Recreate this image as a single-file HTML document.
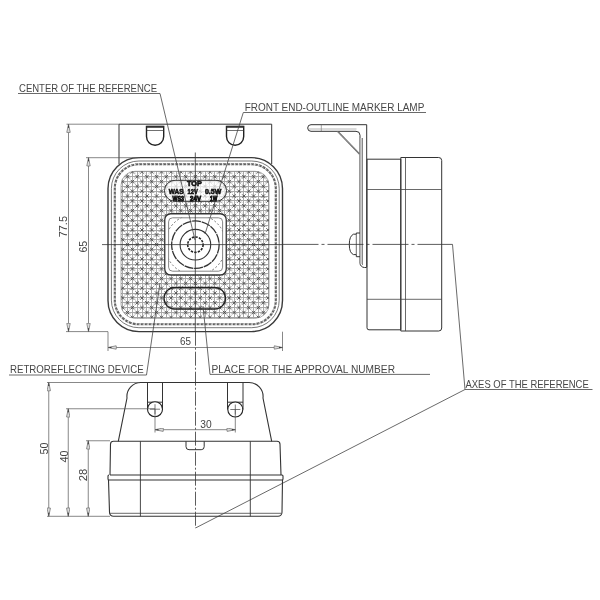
<!DOCTYPE html>
<html><head><meta charset="utf-8">
<style>
html,body{margin:0;padding:0;background:#fff;width:600px;height:600px;overflow:hidden}
svg{display:block;will-change:transform}
text{font-family:"Liberation Sans",sans-serif}
</style></head>
<body>
<svg width="600" height="600" viewBox="0 0 600 600">
<defs>
<pattern id="tex" x="195.4" y="244.6" width="9.6" height="9.6" patternUnits="userSpaceOnUse">
<path d="M0 0.01H9.6M0 4.8H9.6M0.01 0V9.6M4.8 0V9.6" stroke="#777" stroke-width="1" fill="none" shape-rendering="crispEdges"/>
<path d="M-2.10 -2.10L2.10 2.10M2.10 -2.10L-2.10 2.10M7.50 -2.10L11.70 2.10M11.70 -2.10L7.50 2.10M-2.10 7.50L2.10 11.70M2.10 7.50L-2.10 11.70M7.50 7.50L11.70 11.70M11.70 7.50L7.50 11.70M2.70 2.70L6.90 6.90M6.90 2.70L2.70 6.90" stroke="#555" stroke-width="0.85" fill="none"/>
<path d="M1.3 3.55A1.4 1.4 0 0 1 3.5 3.55M6.1 8.35A1.4 1.4 0 0 1 8.3 8.35M3.55 6.1A1.4 1.4 0 0 0 3.55 8.3M8.35 1.3A1.4 1.4 0 0 0 8.35 3.5" stroke="#aaa" stroke-width="0.6" fill="none"/>
</pattern>
<marker id="arr" viewBox="0 0 10 5" refX="10" refY="2.5" markerWidth="9.5" markerHeight="4.3" markerUnits="userSpaceOnUse" orient="auto-start-reverse">
<path d="M0.5 0.5Q0 2.5 0.5 4.5L10 2.5Z" fill="#ddd" stroke="#666" stroke-width="0.8"/><path d="M6 1.7L10 2.5L6 3.3Z" fill="#333"/>
</marker>
</defs>
<rect width="600" height="600" fill="#fff"/>

<g fill="none" stroke="#333" stroke-width="1">
<!-- ===== FRONT VIEW ===== -->
<!-- bracket -->
<path d="M119 164.3V124.2H271.7V164"/>
<!-- tabs -->
<path d="M146.5 126.5V136.6A8.6 8.6 0 0 0 163.7 136.6V126.5Z" stroke="#222" stroke-width="1.4"/>
<path d="M146.5 126.8H163.7" stroke-width="1.8"/>
<path d="M146.5 130.5H163.7" stroke-width="0.7"/>
<path d="M226.5 126.5V136.6A8.6 8.6 0 0 0 243.7 136.6V126.5Z" stroke="#222" stroke-width="1.4"/>
<path d="M226.5 126.8H243.7" stroke-width="1.8"/>
<path d="M226.5 130.5H243.7" stroke-width="0.7"/>

<!-- outer square -->
<rect x="108" y="157.6" width="174.5" height="174" rx="31" fill="#fff" stroke="#3a3a3a" stroke-width="1.4"/>
<rect x="111.4" y="161" width="167.8" height="166.7" rx="27.5" stroke="#555" stroke-width="0.8"/>
<rect x="114.8" y="164.3" width="161" height="160" rx="24" stroke="#606060" stroke-width="2.1" stroke-dasharray="3.2 0.8"/>
<rect x="114.8" y="164.3" width="161" height="160" rx="24" stroke="#d8d8d8" stroke-width="0.8" stroke-dasharray="2 2" stroke-dashoffset="1"/>
<!-- texture -->
<clipPath id="texclip"><rect x="121" y="171.3" width="148" height="147" rx="14"/></clipPath>
<g clip-path="url(#texclip)" fill="none">
<path d="M117.5 170.3V319.3M122.5 170.3V319.3M127.5 170.3V319.3M132.5 170.3V319.3M137.5 170.3V319.3M142.5 170.3V319.3M146.5 170.3V319.3M151.5 170.3V319.3M156.5 170.3V319.3M161.5 170.3V319.3M166.5 170.3V319.3M171.5 170.3V319.3M176.5 170.3V319.3M180.5 170.3V319.3M185.5 170.3V319.3M190.5 170.3V319.3M195.5 170.3V319.3M200.5 170.3V319.3M205.5 170.3V319.3M209.5 170.3V319.3M214.5 170.3V319.3M219.5 170.3V319.3M224.5 170.3V319.3M229.5 170.3V319.3M234.5 170.3V319.3M239.5 170.3V319.3M243.5 170.3V319.3M248.5 170.3V319.3M253.5 170.3V319.3M258.5 170.3V319.3M263.5 170.3V319.3M268.5 170.3V319.3M273.5 170.3V319.3M120 167.5H270M120 171.5H270M120 176.5H270M120 181.5H270M120 186.5H270M120 191.5H270M120 196.5H270M120 200.5H270M120 205.5H270M120 210.5H270M120 215.5H270M120 220.5H270M120 225.5H270M120 230.5H270M120 234.5H270M120 239.5H270M120 244.5H270M120 249.5H270M120 254.5H270M120 259.5H270M120 264.5H270M120 268.5H270M120 273.5H270M120 278.5H270M120 283.5H270M120 288.5H270M120 293.5H270M120 297.5H270M120 302.5H270M120 307.5H270M120 312.5H270M120 317.5H270M120 322.5H270" stroke="#a8a8a8" stroke-width="1"/>
<path d="M116.0 165.2l3.6 3.6m0 -3.6l-3.6 3.6M116.0 174.9l3.6 3.6m0 -3.6l-3.6 3.6M116.0 184.6l3.6 3.6m0 -3.6l-3.6 3.6M116.0 194.3l3.6 3.6m0 -3.6l-3.6 3.6M116.0 204.0l3.6 3.6m0 -3.6l-3.6 3.6M116.0 213.7l3.6 3.6m0 -3.6l-3.6 3.6M116.0 223.4l3.6 3.6m0 -3.6l-3.6 3.6M116.0 233.1l3.6 3.6m0 -3.6l-3.6 3.6M116.0 242.8l3.6 3.6m0 -3.6l-3.6 3.6M116.0 252.5l3.6 3.6m0 -3.6l-3.6 3.6M116.0 262.2l3.6 3.6m0 -3.6l-3.6 3.6M116.0 271.9l3.6 3.6m0 -3.6l-3.6 3.6M116.0 281.6l3.6 3.6m0 -3.6l-3.6 3.6M116.0 291.3l3.6 3.6m0 -3.6l-3.6 3.6M116.0 301.0l3.6 3.6m0 -3.6l-3.6 3.6M116.0 310.7l3.6 3.6m0 -3.6l-3.6 3.6M116.0 320.4l3.6 3.6m0 -3.6l-3.6 3.6M120.9 170.0l3.6 3.6m0 -3.6l-3.6 3.6M120.9 179.8l3.6 3.6m0 -3.6l-3.6 3.6M120.9 189.4l3.6 3.6m0 -3.6l-3.6 3.6M120.9 199.1l3.6 3.6m0 -3.6l-3.6 3.6M120.9 208.8l3.6 3.6m0 -3.6l-3.6 3.6M120.9 218.5l3.6 3.6m0 -3.6l-3.6 3.6M120.9 228.2l3.6 3.6m0 -3.6l-3.6 3.6M120.9 237.9l3.6 3.6m0 -3.6l-3.6 3.6M120.9 247.6l3.6 3.6m0 -3.6l-3.6 3.6M120.9 257.3l3.6 3.6m0 -3.6l-3.6 3.6M120.9 267.1l3.6 3.6m0 -3.6l-3.6 3.6M120.9 276.8l3.6 3.6m0 -3.6l-3.6 3.6M120.9 286.4l3.6 3.6m0 -3.6l-3.6 3.6M120.9 296.1l3.6 3.6m0 -3.6l-3.6 3.6M120.9 305.8l3.6 3.6m0 -3.6l-3.6 3.6M120.9 315.6l3.6 3.6m0 -3.6l-3.6 3.6M125.7 165.2l3.6 3.6m0 -3.6l-3.6 3.6M125.7 174.9l3.6 3.6m0 -3.6l-3.6 3.6M125.7 184.6l3.6 3.6m0 -3.6l-3.6 3.6M125.7 194.3l3.6 3.6m0 -3.6l-3.6 3.6M125.7 204.0l3.6 3.6m0 -3.6l-3.6 3.6M125.7 213.7l3.6 3.6m0 -3.6l-3.6 3.6M125.7 223.4l3.6 3.6m0 -3.6l-3.6 3.6M125.7 233.1l3.6 3.6m0 -3.6l-3.6 3.6M125.7 242.8l3.6 3.6m0 -3.6l-3.6 3.6M125.7 252.5l3.6 3.6m0 -3.6l-3.6 3.6M125.7 262.2l3.6 3.6m0 -3.6l-3.6 3.6M125.7 271.9l3.6 3.6m0 -3.6l-3.6 3.6M125.7 281.6l3.6 3.6m0 -3.6l-3.6 3.6M125.7 291.3l3.6 3.6m0 -3.6l-3.6 3.6M125.7 301.0l3.6 3.6m0 -3.6l-3.6 3.6M125.7 310.7l3.6 3.6m0 -3.6l-3.6 3.6M125.7 320.4l3.6 3.6m0 -3.6l-3.6 3.6M130.6 170.0l3.6 3.6m0 -3.6l-3.6 3.6M130.6 179.8l3.6 3.6m0 -3.6l-3.6 3.6M130.6 189.4l3.6 3.6m0 -3.6l-3.6 3.6M130.6 199.1l3.6 3.6m0 -3.6l-3.6 3.6M130.6 208.8l3.6 3.6m0 -3.6l-3.6 3.6M130.6 218.5l3.6 3.6m0 -3.6l-3.6 3.6M130.6 228.2l3.6 3.6m0 -3.6l-3.6 3.6M130.6 237.9l3.6 3.6m0 -3.6l-3.6 3.6M130.6 247.6l3.6 3.6m0 -3.6l-3.6 3.6M130.6 257.3l3.6 3.6m0 -3.6l-3.6 3.6M130.6 267.1l3.6 3.6m0 -3.6l-3.6 3.6M130.6 276.8l3.6 3.6m0 -3.6l-3.6 3.6M130.6 286.4l3.6 3.6m0 -3.6l-3.6 3.6M130.6 296.1l3.6 3.6m0 -3.6l-3.6 3.6M130.6 305.8l3.6 3.6m0 -3.6l-3.6 3.6M130.6 315.6l3.6 3.6m0 -3.6l-3.6 3.6M135.4 165.2l3.6 3.6m0 -3.6l-3.6 3.6M135.4 174.9l3.6 3.6m0 -3.6l-3.6 3.6M135.4 184.6l3.6 3.6m0 -3.6l-3.6 3.6M135.4 194.3l3.6 3.6m0 -3.6l-3.6 3.6M135.4 204.0l3.6 3.6m0 -3.6l-3.6 3.6M135.4 213.7l3.6 3.6m0 -3.6l-3.6 3.6M135.4 223.4l3.6 3.6m0 -3.6l-3.6 3.6M135.4 233.1l3.6 3.6m0 -3.6l-3.6 3.6M135.4 242.8l3.6 3.6m0 -3.6l-3.6 3.6M135.4 252.5l3.6 3.6m0 -3.6l-3.6 3.6M135.4 262.2l3.6 3.6m0 -3.6l-3.6 3.6M135.4 271.9l3.6 3.6m0 -3.6l-3.6 3.6M135.4 281.6l3.6 3.6m0 -3.6l-3.6 3.6M135.4 291.3l3.6 3.6m0 -3.6l-3.6 3.6M135.4 301.0l3.6 3.6m0 -3.6l-3.6 3.6M135.4 310.7l3.6 3.6m0 -3.6l-3.6 3.6M135.4 320.4l3.6 3.6m0 -3.6l-3.6 3.6M140.2 170.0l3.6 3.6m0 -3.6l-3.6 3.6M140.2 179.8l3.6 3.6m0 -3.6l-3.6 3.6M140.2 189.4l3.6 3.6m0 -3.6l-3.6 3.6M140.2 199.1l3.6 3.6m0 -3.6l-3.6 3.6M140.2 208.8l3.6 3.6m0 -3.6l-3.6 3.6M140.2 218.5l3.6 3.6m0 -3.6l-3.6 3.6M140.2 228.2l3.6 3.6m0 -3.6l-3.6 3.6M140.2 237.9l3.6 3.6m0 -3.6l-3.6 3.6M140.2 247.6l3.6 3.6m0 -3.6l-3.6 3.6M140.2 257.3l3.6 3.6m0 -3.6l-3.6 3.6M140.2 267.1l3.6 3.6m0 -3.6l-3.6 3.6M140.2 276.8l3.6 3.6m0 -3.6l-3.6 3.6M140.2 286.4l3.6 3.6m0 -3.6l-3.6 3.6M140.2 296.1l3.6 3.6m0 -3.6l-3.6 3.6M140.2 305.8l3.6 3.6m0 -3.6l-3.6 3.6M140.2 315.6l3.6 3.6m0 -3.6l-3.6 3.6M145.1 165.2l3.6 3.6m0 -3.6l-3.6 3.6M145.1 174.9l3.6 3.6m0 -3.6l-3.6 3.6M145.1 184.6l3.6 3.6m0 -3.6l-3.6 3.6M145.1 194.3l3.6 3.6m0 -3.6l-3.6 3.6M145.1 204.0l3.6 3.6m0 -3.6l-3.6 3.6M145.1 213.7l3.6 3.6m0 -3.6l-3.6 3.6M145.1 223.4l3.6 3.6m0 -3.6l-3.6 3.6M145.1 233.1l3.6 3.6m0 -3.6l-3.6 3.6M145.1 242.8l3.6 3.6m0 -3.6l-3.6 3.6M145.1 252.5l3.6 3.6m0 -3.6l-3.6 3.6M145.1 262.2l3.6 3.6m0 -3.6l-3.6 3.6M145.1 271.9l3.6 3.6m0 -3.6l-3.6 3.6M145.1 281.6l3.6 3.6m0 -3.6l-3.6 3.6M145.1 291.3l3.6 3.6m0 -3.6l-3.6 3.6M145.1 301.0l3.6 3.6m0 -3.6l-3.6 3.6M145.1 310.7l3.6 3.6m0 -3.6l-3.6 3.6M145.1 320.4l3.6 3.6m0 -3.6l-3.6 3.6M149.9 170.0l3.6 3.6m0 -3.6l-3.6 3.6M149.9 179.8l3.6 3.6m0 -3.6l-3.6 3.6M149.9 189.4l3.6 3.6m0 -3.6l-3.6 3.6M149.9 199.1l3.6 3.6m0 -3.6l-3.6 3.6M149.9 208.8l3.6 3.6m0 -3.6l-3.6 3.6M149.9 218.5l3.6 3.6m0 -3.6l-3.6 3.6M149.9 228.2l3.6 3.6m0 -3.6l-3.6 3.6M149.9 237.9l3.6 3.6m0 -3.6l-3.6 3.6M149.9 247.6l3.6 3.6m0 -3.6l-3.6 3.6M149.9 257.3l3.6 3.6m0 -3.6l-3.6 3.6M149.9 267.1l3.6 3.6m0 -3.6l-3.6 3.6M149.9 276.8l3.6 3.6m0 -3.6l-3.6 3.6M149.9 286.4l3.6 3.6m0 -3.6l-3.6 3.6M149.9 296.1l3.6 3.6m0 -3.6l-3.6 3.6M149.9 305.8l3.6 3.6m0 -3.6l-3.6 3.6M149.9 315.6l3.6 3.6m0 -3.6l-3.6 3.6M154.8 165.2l3.6 3.6m0 -3.6l-3.6 3.6M154.8 174.9l3.6 3.6m0 -3.6l-3.6 3.6M154.8 184.6l3.6 3.6m0 -3.6l-3.6 3.6M154.8 194.3l3.6 3.6m0 -3.6l-3.6 3.6M154.8 204.0l3.6 3.6m0 -3.6l-3.6 3.6M154.8 213.7l3.6 3.6m0 -3.6l-3.6 3.6M154.8 223.4l3.6 3.6m0 -3.6l-3.6 3.6M154.8 233.1l3.6 3.6m0 -3.6l-3.6 3.6M154.8 242.8l3.6 3.6m0 -3.6l-3.6 3.6M154.8 252.5l3.6 3.6m0 -3.6l-3.6 3.6M154.8 262.2l3.6 3.6m0 -3.6l-3.6 3.6M154.8 271.9l3.6 3.6m0 -3.6l-3.6 3.6M154.8 281.6l3.6 3.6m0 -3.6l-3.6 3.6M154.8 291.3l3.6 3.6m0 -3.6l-3.6 3.6M154.8 301.0l3.6 3.6m0 -3.6l-3.6 3.6M154.8 310.7l3.6 3.6m0 -3.6l-3.6 3.6M154.8 320.4l3.6 3.6m0 -3.6l-3.6 3.6M159.7 170.0l3.6 3.6m0 -3.6l-3.6 3.6M159.7 179.8l3.6 3.6m0 -3.6l-3.6 3.6M159.7 189.4l3.6 3.6m0 -3.6l-3.6 3.6M159.7 199.1l3.6 3.6m0 -3.6l-3.6 3.6M159.7 208.8l3.6 3.6m0 -3.6l-3.6 3.6M159.7 218.5l3.6 3.6m0 -3.6l-3.6 3.6M159.7 228.2l3.6 3.6m0 -3.6l-3.6 3.6M159.7 237.9l3.6 3.6m0 -3.6l-3.6 3.6M159.7 247.6l3.6 3.6m0 -3.6l-3.6 3.6M159.7 257.3l3.6 3.6m0 -3.6l-3.6 3.6M159.7 267.1l3.6 3.6m0 -3.6l-3.6 3.6M159.7 276.8l3.6 3.6m0 -3.6l-3.6 3.6M159.7 286.4l3.6 3.6m0 -3.6l-3.6 3.6M159.7 296.1l3.6 3.6m0 -3.6l-3.6 3.6M159.7 305.8l3.6 3.6m0 -3.6l-3.6 3.6M159.7 315.6l3.6 3.6m0 -3.6l-3.6 3.6M164.5 165.2l3.6 3.6m0 -3.6l-3.6 3.6M164.5 174.9l3.6 3.6m0 -3.6l-3.6 3.6M164.5 184.6l3.6 3.6m0 -3.6l-3.6 3.6M164.5 194.3l3.6 3.6m0 -3.6l-3.6 3.6M164.5 204.0l3.6 3.6m0 -3.6l-3.6 3.6M164.5 213.7l3.6 3.6m0 -3.6l-3.6 3.6M164.5 223.4l3.6 3.6m0 -3.6l-3.6 3.6M164.5 233.1l3.6 3.6m0 -3.6l-3.6 3.6M164.5 242.8l3.6 3.6m0 -3.6l-3.6 3.6M164.5 252.5l3.6 3.6m0 -3.6l-3.6 3.6M164.5 262.2l3.6 3.6m0 -3.6l-3.6 3.6M164.5 271.9l3.6 3.6m0 -3.6l-3.6 3.6M164.5 281.6l3.6 3.6m0 -3.6l-3.6 3.6M164.5 291.3l3.6 3.6m0 -3.6l-3.6 3.6M164.5 301.0l3.6 3.6m0 -3.6l-3.6 3.6M164.5 310.7l3.6 3.6m0 -3.6l-3.6 3.6M164.5 320.4l3.6 3.6m0 -3.6l-3.6 3.6M169.3 170.0l3.6 3.6m0 -3.6l-3.6 3.6M169.3 179.8l3.6 3.6m0 -3.6l-3.6 3.6M169.3 189.4l3.6 3.6m0 -3.6l-3.6 3.6M169.3 199.1l3.6 3.6m0 -3.6l-3.6 3.6M169.3 208.8l3.6 3.6m0 -3.6l-3.6 3.6M169.3 218.5l3.6 3.6m0 -3.6l-3.6 3.6M169.3 228.2l3.6 3.6m0 -3.6l-3.6 3.6M169.3 237.9l3.6 3.6m0 -3.6l-3.6 3.6M169.3 247.6l3.6 3.6m0 -3.6l-3.6 3.6M169.3 257.3l3.6 3.6m0 -3.6l-3.6 3.6M169.3 267.1l3.6 3.6m0 -3.6l-3.6 3.6M169.3 276.8l3.6 3.6m0 -3.6l-3.6 3.6M169.3 286.4l3.6 3.6m0 -3.6l-3.6 3.6M169.3 296.1l3.6 3.6m0 -3.6l-3.6 3.6M169.3 305.8l3.6 3.6m0 -3.6l-3.6 3.6M169.3 315.6l3.6 3.6m0 -3.6l-3.6 3.6M174.2 165.2l3.6 3.6m0 -3.6l-3.6 3.6M174.2 174.9l3.6 3.6m0 -3.6l-3.6 3.6M174.2 184.6l3.6 3.6m0 -3.6l-3.6 3.6M174.2 194.3l3.6 3.6m0 -3.6l-3.6 3.6M174.2 204.0l3.6 3.6m0 -3.6l-3.6 3.6M174.2 213.7l3.6 3.6m0 -3.6l-3.6 3.6M174.2 223.4l3.6 3.6m0 -3.6l-3.6 3.6M174.2 233.1l3.6 3.6m0 -3.6l-3.6 3.6M174.2 242.8l3.6 3.6m0 -3.6l-3.6 3.6M174.2 252.5l3.6 3.6m0 -3.6l-3.6 3.6M174.2 262.2l3.6 3.6m0 -3.6l-3.6 3.6M174.2 271.9l3.6 3.6m0 -3.6l-3.6 3.6M174.2 281.6l3.6 3.6m0 -3.6l-3.6 3.6M174.2 291.3l3.6 3.6m0 -3.6l-3.6 3.6M174.2 301.0l3.6 3.6m0 -3.6l-3.6 3.6M174.2 310.7l3.6 3.6m0 -3.6l-3.6 3.6M174.2 320.4l3.6 3.6m0 -3.6l-3.6 3.6M179.0 170.0l3.6 3.6m0 -3.6l-3.6 3.6M179.0 179.8l3.6 3.6m0 -3.6l-3.6 3.6M179.0 189.4l3.6 3.6m0 -3.6l-3.6 3.6M179.0 199.1l3.6 3.6m0 -3.6l-3.6 3.6M179.0 208.8l3.6 3.6m0 -3.6l-3.6 3.6M179.0 218.5l3.6 3.6m0 -3.6l-3.6 3.6M179.0 228.2l3.6 3.6m0 -3.6l-3.6 3.6M179.0 237.9l3.6 3.6m0 -3.6l-3.6 3.6M179.0 247.6l3.6 3.6m0 -3.6l-3.6 3.6M179.0 257.3l3.6 3.6m0 -3.6l-3.6 3.6M179.0 267.1l3.6 3.6m0 -3.6l-3.6 3.6M179.0 276.8l3.6 3.6m0 -3.6l-3.6 3.6M179.0 286.4l3.6 3.6m0 -3.6l-3.6 3.6M179.0 296.1l3.6 3.6m0 -3.6l-3.6 3.6M179.0 305.8l3.6 3.6m0 -3.6l-3.6 3.6M179.0 315.6l3.6 3.6m0 -3.6l-3.6 3.6M183.9 165.2l3.6 3.6m0 -3.6l-3.6 3.6M183.9 174.9l3.6 3.6m0 -3.6l-3.6 3.6M183.9 184.6l3.6 3.6m0 -3.6l-3.6 3.6M183.9 194.3l3.6 3.6m0 -3.6l-3.6 3.6M183.9 204.0l3.6 3.6m0 -3.6l-3.6 3.6M183.9 213.7l3.6 3.6m0 -3.6l-3.6 3.6M183.9 223.4l3.6 3.6m0 -3.6l-3.6 3.6M183.9 233.1l3.6 3.6m0 -3.6l-3.6 3.6M183.9 242.8l3.6 3.6m0 -3.6l-3.6 3.6M183.9 252.5l3.6 3.6m0 -3.6l-3.6 3.6M183.9 262.2l3.6 3.6m0 -3.6l-3.6 3.6M183.9 271.9l3.6 3.6m0 -3.6l-3.6 3.6M183.9 281.6l3.6 3.6m0 -3.6l-3.6 3.6M183.9 291.3l3.6 3.6m0 -3.6l-3.6 3.6M183.9 301.0l3.6 3.6m0 -3.6l-3.6 3.6M183.9 310.7l3.6 3.6m0 -3.6l-3.6 3.6M183.9 320.4l3.6 3.6m0 -3.6l-3.6 3.6M188.8 170.0l3.6 3.6m0 -3.6l-3.6 3.6M188.8 179.8l3.6 3.6m0 -3.6l-3.6 3.6M188.8 189.4l3.6 3.6m0 -3.6l-3.6 3.6M188.8 199.1l3.6 3.6m0 -3.6l-3.6 3.6M188.8 208.8l3.6 3.6m0 -3.6l-3.6 3.6M188.8 218.5l3.6 3.6m0 -3.6l-3.6 3.6M188.8 228.2l3.6 3.6m0 -3.6l-3.6 3.6M188.8 237.9l3.6 3.6m0 -3.6l-3.6 3.6M188.8 247.6l3.6 3.6m0 -3.6l-3.6 3.6M188.8 257.3l3.6 3.6m0 -3.6l-3.6 3.6M188.8 267.1l3.6 3.6m0 -3.6l-3.6 3.6M188.8 276.8l3.6 3.6m0 -3.6l-3.6 3.6M188.8 286.4l3.6 3.6m0 -3.6l-3.6 3.6M188.8 296.1l3.6 3.6m0 -3.6l-3.6 3.6M188.8 305.8l3.6 3.6m0 -3.6l-3.6 3.6M188.8 315.6l3.6 3.6m0 -3.6l-3.6 3.6M193.6 165.2l3.6 3.6m0 -3.6l-3.6 3.6M193.6 174.9l3.6 3.6m0 -3.6l-3.6 3.6M193.6 184.6l3.6 3.6m0 -3.6l-3.6 3.6M193.6 194.3l3.6 3.6m0 -3.6l-3.6 3.6M193.6 204.0l3.6 3.6m0 -3.6l-3.6 3.6M193.6 213.7l3.6 3.6m0 -3.6l-3.6 3.6M193.6 223.4l3.6 3.6m0 -3.6l-3.6 3.6M193.6 233.1l3.6 3.6m0 -3.6l-3.6 3.6M193.6 242.8l3.6 3.6m0 -3.6l-3.6 3.6M193.6 252.5l3.6 3.6m0 -3.6l-3.6 3.6M193.6 262.2l3.6 3.6m0 -3.6l-3.6 3.6M193.6 271.9l3.6 3.6m0 -3.6l-3.6 3.6M193.6 281.6l3.6 3.6m0 -3.6l-3.6 3.6M193.6 291.3l3.6 3.6m0 -3.6l-3.6 3.6M193.6 301.0l3.6 3.6m0 -3.6l-3.6 3.6M193.6 310.7l3.6 3.6m0 -3.6l-3.6 3.6M193.6 320.4l3.6 3.6m0 -3.6l-3.6 3.6M198.4 170.0l3.6 3.6m0 -3.6l-3.6 3.6M198.4 179.8l3.6 3.6m0 -3.6l-3.6 3.6M198.4 189.4l3.6 3.6m0 -3.6l-3.6 3.6M198.4 199.1l3.6 3.6m0 -3.6l-3.6 3.6M198.4 208.8l3.6 3.6m0 -3.6l-3.6 3.6M198.4 218.5l3.6 3.6m0 -3.6l-3.6 3.6M198.4 228.2l3.6 3.6m0 -3.6l-3.6 3.6M198.4 237.9l3.6 3.6m0 -3.6l-3.6 3.6M198.4 247.6l3.6 3.6m0 -3.6l-3.6 3.6M198.4 257.3l3.6 3.6m0 -3.6l-3.6 3.6M198.4 267.1l3.6 3.6m0 -3.6l-3.6 3.6M198.4 276.8l3.6 3.6m0 -3.6l-3.6 3.6M198.4 286.4l3.6 3.6m0 -3.6l-3.6 3.6M198.4 296.1l3.6 3.6m0 -3.6l-3.6 3.6M198.4 305.8l3.6 3.6m0 -3.6l-3.6 3.6M198.4 315.6l3.6 3.6m0 -3.6l-3.6 3.6M203.3 165.2l3.6 3.6m0 -3.6l-3.6 3.6M203.3 174.9l3.6 3.6m0 -3.6l-3.6 3.6M203.3 184.6l3.6 3.6m0 -3.6l-3.6 3.6M203.3 194.3l3.6 3.6m0 -3.6l-3.6 3.6M203.3 204.0l3.6 3.6m0 -3.6l-3.6 3.6M203.3 213.7l3.6 3.6m0 -3.6l-3.6 3.6M203.3 223.4l3.6 3.6m0 -3.6l-3.6 3.6M203.3 233.1l3.6 3.6m0 -3.6l-3.6 3.6M203.3 242.8l3.6 3.6m0 -3.6l-3.6 3.6M203.3 252.5l3.6 3.6m0 -3.6l-3.6 3.6M203.3 262.2l3.6 3.6m0 -3.6l-3.6 3.6M203.3 271.9l3.6 3.6m0 -3.6l-3.6 3.6M203.3 281.6l3.6 3.6m0 -3.6l-3.6 3.6M203.3 291.3l3.6 3.6m0 -3.6l-3.6 3.6M203.3 301.0l3.6 3.6m0 -3.6l-3.6 3.6M203.3 310.7l3.6 3.6m0 -3.6l-3.6 3.6M203.3 320.4l3.6 3.6m0 -3.6l-3.6 3.6M208.2 170.0l3.6 3.6m0 -3.6l-3.6 3.6M208.2 179.8l3.6 3.6m0 -3.6l-3.6 3.6M208.2 189.4l3.6 3.6m0 -3.6l-3.6 3.6M208.2 199.1l3.6 3.6m0 -3.6l-3.6 3.6M208.2 208.8l3.6 3.6m0 -3.6l-3.6 3.6M208.2 218.5l3.6 3.6m0 -3.6l-3.6 3.6M208.2 228.2l3.6 3.6m0 -3.6l-3.6 3.6M208.2 237.9l3.6 3.6m0 -3.6l-3.6 3.6M208.2 247.6l3.6 3.6m0 -3.6l-3.6 3.6M208.2 257.3l3.6 3.6m0 -3.6l-3.6 3.6M208.2 267.1l3.6 3.6m0 -3.6l-3.6 3.6M208.2 276.8l3.6 3.6m0 -3.6l-3.6 3.6M208.2 286.4l3.6 3.6m0 -3.6l-3.6 3.6M208.2 296.1l3.6 3.6m0 -3.6l-3.6 3.6M208.2 305.8l3.6 3.6m0 -3.6l-3.6 3.6M208.2 315.6l3.6 3.6m0 -3.6l-3.6 3.6M213.0 165.2l3.6 3.6m0 -3.6l-3.6 3.6M213.0 174.9l3.6 3.6m0 -3.6l-3.6 3.6M213.0 184.6l3.6 3.6m0 -3.6l-3.6 3.6M213.0 194.3l3.6 3.6m0 -3.6l-3.6 3.6M213.0 204.0l3.6 3.6m0 -3.6l-3.6 3.6M213.0 213.7l3.6 3.6m0 -3.6l-3.6 3.6M213.0 223.4l3.6 3.6m0 -3.6l-3.6 3.6M213.0 233.1l3.6 3.6m0 -3.6l-3.6 3.6M213.0 242.8l3.6 3.6m0 -3.6l-3.6 3.6M213.0 252.5l3.6 3.6m0 -3.6l-3.6 3.6M213.0 262.2l3.6 3.6m0 -3.6l-3.6 3.6M213.0 271.9l3.6 3.6m0 -3.6l-3.6 3.6M213.0 281.6l3.6 3.6m0 -3.6l-3.6 3.6M213.0 291.3l3.6 3.6m0 -3.6l-3.6 3.6M213.0 301.0l3.6 3.6m0 -3.6l-3.6 3.6M213.0 310.7l3.6 3.6m0 -3.6l-3.6 3.6M213.0 320.4l3.6 3.6m0 -3.6l-3.6 3.6M217.8 170.0l3.6 3.6m0 -3.6l-3.6 3.6M217.8 179.8l3.6 3.6m0 -3.6l-3.6 3.6M217.8 189.4l3.6 3.6m0 -3.6l-3.6 3.6M217.8 199.1l3.6 3.6m0 -3.6l-3.6 3.6M217.8 208.8l3.6 3.6m0 -3.6l-3.6 3.6M217.8 218.5l3.6 3.6m0 -3.6l-3.6 3.6M217.8 228.2l3.6 3.6m0 -3.6l-3.6 3.6M217.8 237.9l3.6 3.6m0 -3.6l-3.6 3.6M217.8 247.6l3.6 3.6m0 -3.6l-3.6 3.6M217.8 257.3l3.6 3.6m0 -3.6l-3.6 3.6M217.8 267.1l3.6 3.6m0 -3.6l-3.6 3.6M217.8 276.8l3.6 3.6m0 -3.6l-3.6 3.6M217.8 286.4l3.6 3.6m0 -3.6l-3.6 3.6M217.8 296.1l3.6 3.6m0 -3.6l-3.6 3.6M217.8 305.8l3.6 3.6m0 -3.6l-3.6 3.6M217.8 315.6l3.6 3.6m0 -3.6l-3.6 3.6M222.7 165.2l3.6 3.6m0 -3.6l-3.6 3.6M222.7 174.9l3.6 3.6m0 -3.6l-3.6 3.6M222.7 184.6l3.6 3.6m0 -3.6l-3.6 3.6M222.7 194.3l3.6 3.6m0 -3.6l-3.6 3.6M222.7 204.0l3.6 3.6m0 -3.6l-3.6 3.6M222.7 213.7l3.6 3.6m0 -3.6l-3.6 3.6M222.7 223.4l3.6 3.6m0 -3.6l-3.6 3.6M222.7 233.1l3.6 3.6m0 -3.6l-3.6 3.6M222.7 242.8l3.6 3.6m0 -3.6l-3.6 3.6M222.7 252.5l3.6 3.6m0 -3.6l-3.6 3.6M222.7 262.2l3.6 3.6m0 -3.6l-3.6 3.6M222.7 271.9l3.6 3.6m0 -3.6l-3.6 3.6M222.7 281.6l3.6 3.6m0 -3.6l-3.6 3.6M222.7 291.3l3.6 3.6m0 -3.6l-3.6 3.6M222.7 301.0l3.6 3.6m0 -3.6l-3.6 3.6M222.7 310.7l3.6 3.6m0 -3.6l-3.6 3.6M222.7 320.4l3.6 3.6m0 -3.6l-3.6 3.6M227.5 170.0l3.6 3.6m0 -3.6l-3.6 3.6M227.5 179.8l3.6 3.6m0 -3.6l-3.6 3.6M227.5 189.4l3.6 3.6m0 -3.6l-3.6 3.6M227.5 199.1l3.6 3.6m0 -3.6l-3.6 3.6M227.5 208.8l3.6 3.6m0 -3.6l-3.6 3.6M227.5 218.5l3.6 3.6m0 -3.6l-3.6 3.6M227.5 228.2l3.6 3.6m0 -3.6l-3.6 3.6M227.5 237.9l3.6 3.6m0 -3.6l-3.6 3.6M227.5 247.6l3.6 3.6m0 -3.6l-3.6 3.6M227.5 257.3l3.6 3.6m0 -3.6l-3.6 3.6M227.5 267.1l3.6 3.6m0 -3.6l-3.6 3.6M227.5 276.8l3.6 3.6m0 -3.6l-3.6 3.6M227.5 286.4l3.6 3.6m0 -3.6l-3.6 3.6M227.5 296.1l3.6 3.6m0 -3.6l-3.6 3.6M227.5 305.8l3.6 3.6m0 -3.6l-3.6 3.6M227.5 315.6l3.6 3.6m0 -3.6l-3.6 3.6M232.4 165.2l3.6 3.6m0 -3.6l-3.6 3.6M232.4 174.9l3.6 3.6m0 -3.6l-3.6 3.6M232.4 184.6l3.6 3.6m0 -3.6l-3.6 3.6M232.4 194.3l3.6 3.6m0 -3.6l-3.6 3.6M232.4 204.0l3.6 3.6m0 -3.6l-3.6 3.6M232.4 213.7l3.6 3.6m0 -3.6l-3.6 3.6M232.4 223.4l3.6 3.6m0 -3.6l-3.6 3.6M232.4 233.1l3.6 3.6m0 -3.6l-3.6 3.6M232.4 242.8l3.6 3.6m0 -3.6l-3.6 3.6M232.4 252.5l3.6 3.6m0 -3.6l-3.6 3.6M232.4 262.2l3.6 3.6m0 -3.6l-3.6 3.6M232.4 271.9l3.6 3.6m0 -3.6l-3.6 3.6M232.4 281.6l3.6 3.6m0 -3.6l-3.6 3.6M232.4 291.3l3.6 3.6m0 -3.6l-3.6 3.6M232.4 301.0l3.6 3.6m0 -3.6l-3.6 3.6M232.4 310.7l3.6 3.6m0 -3.6l-3.6 3.6M232.4 320.4l3.6 3.6m0 -3.6l-3.6 3.6M237.2 170.0l3.6 3.6m0 -3.6l-3.6 3.6M237.2 179.8l3.6 3.6m0 -3.6l-3.6 3.6M237.2 189.4l3.6 3.6m0 -3.6l-3.6 3.6M237.2 199.1l3.6 3.6m0 -3.6l-3.6 3.6M237.2 208.8l3.6 3.6m0 -3.6l-3.6 3.6M237.2 218.5l3.6 3.6m0 -3.6l-3.6 3.6M237.2 228.2l3.6 3.6m0 -3.6l-3.6 3.6M237.2 237.9l3.6 3.6m0 -3.6l-3.6 3.6M237.2 247.6l3.6 3.6m0 -3.6l-3.6 3.6M237.2 257.3l3.6 3.6m0 -3.6l-3.6 3.6M237.2 267.1l3.6 3.6m0 -3.6l-3.6 3.6M237.2 276.8l3.6 3.6m0 -3.6l-3.6 3.6M237.2 286.4l3.6 3.6m0 -3.6l-3.6 3.6M237.2 296.1l3.6 3.6m0 -3.6l-3.6 3.6M237.2 305.8l3.6 3.6m0 -3.6l-3.6 3.6M237.2 315.6l3.6 3.6m0 -3.6l-3.6 3.6M242.1 165.2l3.6 3.6m0 -3.6l-3.6 3.6M242.1 174.9l3.6 3.6m0 -3.6l-3.6 3.6M242.1 184.6l3.6 3.6m0 -3.6l-3.6 3.6M242.1 194.3l3.6 3.6m0 -3.6l-3.6 3.6M242.1 204.0l3.6 3.6m0 -3.6l-3.6 3.6M242.1 213.7l3.6 3.6m0 -3.6l-3.6 3.6M242.1 223.4l3.6 3.6m0 -3.6l-3.6 3.6M242.1 233.1l3.6 3.6m0 -3.6l-3.6 3.6M242.1 242.8l3.6 3.6m0 -3.6l-3.6 3.6M242.1 252.5l3.6 3.6m0 -3.6l-3.6 3.6M242.1 262.2l3.6 3.6m0 -3.6l-3.6 3.6M242.1 271.9l3.6 3.6m0 -3.6l-3.6 3.6M242.1 281.6l3.6 3.6m0 -3.6l-3.6 3.6M242.1 291.3l3.6 3.6m0 -3.6l-3.6 3.6M242.1 301.0l3.6 3.6m0 -3.6l-3.6 3.6M242.1 310.7l3.6 3.6m0 -3.6l-3.6 3.6M242.1 320.4l3.6 3.6m0 -3.6l-3.6 3.6M246.9 170.0l3.6 3.6m0 -3.6l-3.6 3.6M246.9 179.8l3.6 3.6m0 -3.6l-3.6 3.6M246.9 189.4l3.6 3.6m0 -3.6l-3.6 3.6M246.9 199.1l3.6 3.6m0 -3.6l-3.6 3.6M246.9 208.8l3.6 3.6m0 -3.6l-3.6 3.6M246.9 218.5l3.6 3.6m0 -3.6l-3.6 3.6M246.9 228.2l3.6 3.6m0 -3.6l-3.6 3.6M246.9 237.9l3.6 3.6m0 -3.6l-3.6 3.6M246.9 247.6l3.6 3.6m0 -3.6l-3.6 3.6M246.9 257.3l3.6 3.6m0 -3.6l-3.6 3.6M246.9 267.1l3.6 3.6m0 -3.6l-3.6 3.6M246.9 276.8l3.6 3.6m0 -3.6l-3.6 3.6M246.9 286.4l3.6 3.6m0 -3.6l-3.6 3.6M246.9 296.1l3.6 3.6m0 -3.6l-3.6 3.6M246.9 305.8l3.6 3.6m0 -3.6l-3.6 3.6M246.9 315.6l3.6 3.6m0 -3.6l-3.6 3.6M251.8 165.2l3.6 3.6m0 -3.6l-3.6 3.6M251.8 174.9l3.6 3.6m0 -3.6l-3.6 3.6M251.8 184.6l3.6 3.6m0 -3.6l-3.6 3.6M251.8 194.3l3.6 3.6m0 -3.6l-3.6 3.6M251.8 204.0l3.6 3.6m0 -3.6l-3.6 3.6M251.8 213.7l3.6 3.6m0 -3.6l-3.6 3.6M251.8 223.4l3.6 3.6m0 -3.6l-3.6 3.6M251.8 233.1l3.6 3.6m0 -3.6l-3.6 3.6M251.8 242.8l3.6 3.6m0 -3.6l-3.6 3.6M251.8 252.5l3.6 3.6m0 -3.6l-3.6 3.6M251.8 262.2l3.6 3.6m0 -3.6l-3.6 3.6M251.8 271.9l3.6 3.6m0 -3.6l-3.6 3.6M251.8 281.6l3.6 3.6m0 -3.6l-3.6 3.6M251.8 291.3l3.6 3.6m0 -3.6l-3.6 3.6M251.8 301.0l3.6 3.6m0 -3.6l-3.6 3.6M251.8 310.7l3.6 3.6m0 -3.6l-3.6 3.6M251.8 320.4l3.6 3.6m0 -3.6l-3.6 3.6M256.6 170.0l3.6 3.6m0 -3.6l-3.6 3.6M256.6 179.8l3.6 3.6m0 -3.6l-3.6 3.6M256.6 189.4l3.6 3.6m0 -3.6l-3.6 3.6M256.6 199.1l3.6 3.6m0 -3.6l-3.6 3.6M256.6 208.8l3.6 3.6m0 -3.6l-3.6 3.6M256.6 218.5l3.6 3.6m0 -3.6l-3.6 3.6M256.6 228.2l3.6 3.6m0 -3.6l-3.6 3.6M256.6 237.9l3.6 3.6m0 -3.6l-3.6 3.6M256.6 247.6l3.6 3.6m0 -3.6l-3.6 3.6M256.6 257.3l3.6 3.6m0 -3.6l-3.6 3.6M256.6 267.1l3.6 3.6m0 -3.6l-3.6 3.6M256.6 276.8l3.6 3.6m0 -3.6l-3.6 3.6M256.6 286.4l3.6 3.6m0 -3.6l-3.6 3.6M256.6 296.1l3.6 3.6m0 -3.6l-3.6 3.6M256.6 305.8l3.6 3.6m0 -3.6l-3.6 3.6M256.6 315.6l3.6 3.6m0 -3.6l-3.6 3.6M261.5 165.2l3.6 3.6m0 -3.6l-3.6 3.6M261.5 174.9l3.6 3.6m0 -3.6l-3.6 3.6M261.5 184.6l3.6 3.6m0 -3.6l-3.6 3.6M261.5 194.3l3.6 3.6m0 -3.6l-3.6 3.6M261.5 204.0l3.6 3.6m0 -3.6l-3.6 3.6M261.5 213.7l3.6 3.6m0 -3.6l-3.6 3.6M261.5 223.4l3.6 3.6m0 -3.6l-3.6 3.6M261.5 233.1l3.6 3.6m0 -3.6l-3.6 3.6M261.5 242.8l3.6 3.6m0 -3.6l-3.6 3.6M261.5 252.5l3.6 3.6m0 -3.6l-3.6 3.6M261.5 262.2l3.6 3.6m0 -3.6l-3.6 3.6M261.5 271.9l3.6 3.6m0 -3.6l-3.6 3.6M261.5 281.6l3.6 3.6m0 -3.6l-3.6 3.6M261.5 291.3l3.6 3.6m0 -3.6l-3.6 3.6M261.5 301.0l3.6 3.6m0 -3.6l-3.6 3.6M261.5 310.7l3.6 3.6m0 -3.6l-3.6 3.6M261.5 320.4l3.6 3.6m0 -3.6l-3.6 3.6M266.3 170.0l3.6 3.6m0 -3.6l-3.6 3.6M266.3 179.8l3.6 3.6m0 -3.6l-3.6 3.6M266.3 189.4l3.6 3.6m0 -3.6l-3.6 3.6M266.3 199.1l3.6 3.6m0 -3.6l-3.6 3.6M266.3 208.8l3.6 3.6m0 -3.6l-3.6 3.6M266.3 218.5l3.6 3.6m0 -3.6l-3.6 3.6M266.3 228.2l3.6 3.6m0 -3.6l-3.6 3.6M266.3 237.9l3.6 3.6m0 -3.6l-3.6 3.6M266.3 247.6l3.6 3.6m0 -3.6l-3.6 3.6M266.3 257.3l3.6 3.6m0 -3.6l-3.6 3.6M266.3 267.1l3.6 3.6m0 -3.6l-3.6 3.6M266.3 276.8l3.6 3.6m0 -3.6l-3.6 3.6M266.3 286.4l3.6 3.6m0 -3.6l-3.6 3.6M266.3 296.1l3.6 3.6m0 -3.6l-3.6 3.6M266.3 305.8l3.6 3.6m0 -3.6l-3.6 3.6M266.3 315.6l3.6 3.6m0 -3.6l-3.6 3.6M271.2 165.2l3.6 3.6m0 -3.6l-3.6 3.6M271.2 174.9l3.6 3.6m0 -3.6l-3.6 3.6M271.2 184.6l3.6 3.6m0 -3.6l-3.6 3.6M271.2 194.3l3.6 3.6m0 -3.6l-3.6 3.6M271.2 204.0l3.6 3.6m0 -3.6l-3.6 3.6M271.2 213.7l3.6 3.6m0 -3.6l-3.6 3.6M271.2 223.4l3.6 3.6m0 -3.6l-3.6 3.6M271.2 233.1l3.6 3.6m0 -3.6l-3.6 3.6M271.2 242.8l3.6 3.6m0 -3.6l-3.6 3.6M271.2 252.5l3.6 3.6m0 -3.6l-3.6 3.6M271.2 262.2l3.6 3.6m0 -3.6l-3.6 3.6M271.2 271.9l3.6 3.6m0 -3.6l-3.6 3.6M271.2 281.6l3.6 3.6m0 -3.6l-3.6 3.6M271.2 291.3l3.6 3.6m0 -3.6l-3.6 3.6M271.2 301.0l3.6 3.6m0 -3.6l-3.6 3.6M271.2 310.7l3.6 3.6m0 -3.6l-3.6 3.6M271.2 320.4l3.6 3.6m0 -3.6l-3.6 3.6" stroke="#4a4a4a" stroke-width="0.9"/>
<path d="M119.1 168.5a1.4 1.4 0 0 1 2.2 0M119.1 173.4a1.4 1.4 0 0 1 2.2 0M119.1 178.2a1.4 1.4 0 0 1 2.2 0M119.1 183.1a1.4 1.4 0 0 1 2.2 0M119.1 187.9a1.4 1.4 0 0 1 2.2 0M119.1 192.8a1.4 1.4 0 0 1 2.2 0M119.1 197.6a1.4 1.4 0 0 1 2.2 0M119.1 202.5a1.4 1.4 0 0 1 2.2 0M119.1 207.3a1.4 1.4 0 0 1 2.2 0M119.1 212.2a1.4 1.4 0 0 1 2.2 0M119.1 217.0a1.4 1.4 0 0 1 2.2 0M119.1 221.9a1.4 1.4 0 0 1 2.2 0M119.1 226.7a1.4 1.4 0 0 1 2.2 0M119.1 231.6a1.4 1.4 0 0 1 2.2 0M119.1 236.4a1.4 1.4 0 0 1 2.2 0M119.1 241.3a1.4 1.4 0 0 1 2.2 0M119.1 246.1a1.4 1.4 0 0 1 2.2 0M119.1 251.0a1.4 1.4 0 0 1 2.2 0M119.1 255.8a1.4 1.4 0 0 1 2.2 0M119.1 260.7a1.4 1.4 0 0 1 2.2 0M119.1 265.5a1.4 1.4 0 0 1 2.2 0M119.1 270.4a1.4 1.4 0 0 1 2.2 0M119.1 275.2a1.4 1.4 0 0 1 2.2 0M119.1 280.1a1.4 1.4 0 0 1 2.2 0M119.1 284.9a1.4 1.4 0 0 1 2.2 0M119.1 289.8a1.4 1.4 0 0 1 2.2 0M119.1 294.6a1.4 1.4 0 0 1 2.2 0M119.1 299.5a1.4 1.4 0 0 1 2.2 0M119.1 304.3a1.4 1.4 0 0 1 2.2 0M119.1 309.2a1.4 1.4 0 0 1 2.2 0M119.1 314.0a1.4 1.4 0 0 1 2.2 0M119.1 318.9a1.4 1.4 0 0 1 2.2 0M119.1 323.7a1.4 1.4 0 0 1 2.2 0M124.0 168.5a1.4 1.4 0 0 1 2.2 0M124.0 173.4a1.4 1.4 0 0 1 2.2 0M124.0 178.2a1.4 1.4 0 0 1 2.2 0M124.0 183.1a1.4 1.4 0 0 1 2.2 0M124.0 187.9a1.4 1.4 0 0 1 2.2 0M124.0 192.8a1.4 1.4 0 0 1 2.2 0M124.0 197.6a1.4 1.4 0 0 1 2.2 0M124.0 202.5a1.4 1.4 0 0 1 2.2 0M124.0 207.3a1.4 1.4 0 0 1 2.2 0M124.0 212.2a1.4 1.4 0 0 1 2.2 0M124.0 217.0a1.4 1.4 0 0 1 2.2 0M124.0 221.9a1.4 1.4 0 0 1 2.2 0M124.0 226.7a1.4 1.4 0 0 1 2.2 0M124.0 231.6a1.4 1.4 0 0 1 2.2 0M124.0 236.4a1.4 1.4 0 0 1 2.2 0M124.0 241.3a1.4 1.4 0 0 1 2.2 0M124.0 246.1a1.4 1.4 0 0 1 2.2 0M124.0 251.0a1.4 1.4 0 0 1 2.2 0M124.0 255.8a1.4 1.4 0 0 1 2.2 0M124.0 260.7a1.4 1.4 0 0 1 2.2 0M124.0 265.5a1.4 1.4 0 0 1 2.2 0M124.0 270.4a1.4 1.4 0 0 1 2.2 0M124.0 275.2a1.4 1.4 0 0 1 2.2 0M124.0 280.1a1.4 1.4 0 0 1 2.2 0M124.0 284.9a1.4 1.4 0 0 1 2.2 0M124.0 289.8a1.4 1.4 0 0 1 2.2 0M124.0 294.6a1.4 1.4 0 0 1 2.2 0M124.0 299.5a1.4 1.4 0 0 1 2.2 0M124.0 304.3a1.4 1.4 0 0 1 2.2 0M124.0 309.2a1.4 1.4 0 0 1 2.2 0M124.0 314.0a1.4 1.4 0 0 1 2.2 0M124.0 318.9a1.4 1.4 0 0 1 2.2 0M124.0 323.7a1.4 1.4 0 0 1 2.2 0M128.8 168.5a1.4 1.4 0 0 1 2.2 0M128.8 173.4a1.4 1.4 0 0 1 2.2 0M128.8 178.2a1.4 1.4 0 0 1 2.2 0M128.8 183.1a1.4 1.4 0 0 1 2.2 0M128.8 187.9a1.4 1.4 0 0 1 2.2 0M128.8 192.8a1.4 1.4 0 0 1 2.2 0M128.8 197.6a1.4 1.4 0 0 1 2.2 0M128.8 202.5a1.4 1.4 0 0 1 2.2 0M128.8 207.3a1.4 1.4 0 0 1 2.2 0M128.8 212.2a1.4 1.4 0 0 1 2.2 0M128.8 217.0a1.4 1.4 0 0 1 2.2 0M128.8 221.9a1.4 1.4 0 0 1 2.2 0M128.8 226.7a1.4 1.4 0 0 1 2.2 0M128.8 231.6a1.4 1.4 0 0 1 2.2 0M128.8 236.4a1.4 1.4 0 0 1 2.2 0M128.8 241.3a1.4 1.4 0 0 1 2.2 0M128.8 246.1a1.4 1.4 0 0 1 2.2 0M128.8 251.0a1.4 1.4 0 0 1 2.2 0M128.8 255.8a1.4 1.4 0 0 1 2.2 0M128.8 260.7a1.4 1.4 0 0 1 2.2 0M128.8 265.5a1.4 1.4 0 0 1 2.2 0M128.8 270.4a1.4 1.4 0 0 1 2.2 0M128.8 275.2a1.4 1.4 0 0 1 2.2 0M128.8 280.1a1.4 1.4 0 0 1 2.2 0M128.8 284.9a1.4 1.4 0 0 1 2.2 0M128.8 289.8a1.4 1.4 0 0 1 2.2 0M128.8 294.6a1.4 1.4 0 0 1 2.2 0M128.8 299.5a1.4 1.4 0 0 1 2.2 0M128.8 304.3a1.4 1.4 0 0 1 2.2 0M128.8 309.2a1.4 1.4 0 0 1 2.2 0M128.8 314.0a1.4 1.4 0 0 1 2.2 0M128.8 318.9a1.4 1.4 0 0 1 2.2 0M128.8 323.7a1.4 1.4 0 0 1 2.2 0M133.7 168.5a1.4 1.4 0 0 1 2.2 0M133.7 173.4a1.4 1.4 0 0 1 2.2 0M133.7 178.2a1.4 1.4 0 0 1 2.2 0M133.7 183.1a1.4 1.4 0 0 1 2.2 0M133.7 187.9a1.4 1.4 0 0 1 2.2 0M133.7 192.8a1.4 1.4 0 0 1 2.2 0M133.7 197.6a1.4 1.4 0 0 1 2.2 0M133.7 202.5a1.4 1.4 0 0 1 2.2 0M133.7 207.3a1.4 1.4 0 0 1 2.2 0M133.7 212.2a1.4 1.4 0 0 1 2.2 0M133.7 217.0a1.4 1.4 0 0 1 2.2 0M133.7 221.9a1.4 1.4 0 0 1 2.2 0M133.7 226.7a1.4 1.4 0 0 1 2.2 0M133.7 231.6a1.4 1.4 0 0 1 2.2 0M133.7 236.4a1.4 1.4 0 0 1 2.2 0M133.7 241.3a1.4 1.4 0 0 1 2.2 0M133.7 246.1a1.4 1.4 0 0 1 2.2 0M133.7 251.0a1.4 1.4 0 0 1 2.2 0M133.7 255.8a1.4 1.4 0 0 1 2.2 0M133.7 260.7a1.4 1.4 0 0 1 2.2 0M133.7 265.5a1.4 1.4 0 0 1 2.2 0M133.7 270.4a1.4 1.4 0 0 1 2.2 0M133.7 275.2a1.4 1.4 0 0 1 2.2 0M133.7 280.1a1.4 1.4 0 0 1 2.2 0M133.7 284.9a1.4 1.4 0 0 1 2.2 0M133.7 289.8a1.4 1.4 0 0 1 2.2 0M133.7 294.6a1.4 1.4 0 0 1 2.2 0M133.7 299.5a1.4 1.4 0 0 1 2.2 0M133.7 304.3a1.4 1.4 0 0 1 2.2 0M133.7 309.2a1.4 1.4 0 0 1 2.2 0M133.7 314.0a1.4 1.4 0 0 1 2.2 0M133.7 318.9a1.4 1.4 0 0 1 2.2 0M133.7 323.7a1.4 1.4 0 0 1 2.2 0M138.5 168.5a1.4 1.4 0 0 1 2.2 0M138.5 173.4a1.4 1.4 0 0 1 2.2 0M138.5 178.2a1.4 1.4 0 0 1 2.2 0M138.5 183.1a1.4 1.4 0 0 1 2.2 0M138.5 187.9a1.4 1.4 0 0 1 2.2 0M138.5 192.8a1.4 1.4 0 0 1 2.2 0M138.5 197.6a1.4 1.4 0 0 1 2.2 0M138.5 202.5a1.4 1.4 0 0 1 2.2 0M138.5 207.3a1.4 1.4 0 0 1 2.2 0M138.5 212.2a1.4 1.4 0 0 1 2.2 0M138.5 217.0a1.4 1.4 0 0 1 2.2 0M138.5 221.9a1.4 1.4 0 0 1 2.2 0M138.5 226.7a1.4 1.4 0 0 1 2.2 0M138.5 231.6a1.4 1.4 0 0 1 2.2 0M138.5 236.4a1.4 1.4 0 0 1 2.2 0M138.5 241.3a1.4 1.4 0 0 1 2.2 0M138.5 246.1a1.4 1.4 0 0 1 2.2 0M138.5 251.0a1.4 1.4 0 0 1 2.2 0M138.5 255.8a1.4 1.4 0 0 1 2.2 0M138.5 260.7a1.4 1.4 0 0 1 2.2 0M138.5 265.5a1.4 1.4 0 0 1 2.2 0M138.5 270.4a1.4 1.4 0 0 1 2.2 0M138.5 275.2a1.4 1.4 0 0 1 2.2 0M138.5 280.1a1.4 1.4 0 0 1 2.2 0M138.5 284.9a1.4 1.4 0 0 1 2.2 0M138.5 289.8a1.4 1.4 0 0 1 2.2 0M138.5 294.6a1.4 1.4 0 0 1 2.2 0M138.5 299.5a1.4 1.4 0 0 1 2.2 0M138.5 304.3a1.4 1.4 0 0 1 2.2 0M138.5 309.2a1.4 1.4 0 0 1 2.2 0M138.5 314.0a1.4 1.4 0 0 1 2.2 0M138.5 318.9a1.4 1.4 0 0 1 2.2 0M138.5 323.7a1.4 1.4 0 0 1 2.2 0M143.4 168.5a1.4 1.4 0 0 1 2.2 0M143.4 173.4a1.4 1.4 0 0 1 2.2 0M143.4 178.2a1.4 1.4 0 0 1 2.2 0M143.4 183.1a1.4 1.4 0 0 1 2.2 0M143.4 187.9a1.4 1.4 0 0 1 2.2 0M143.4 192.8a1.4 1.4 0 0 1 2.2 0M143.4 197.6a1.4 1.4 0 0 1 2.2 0M143.4 202.5a1.4 1.4 0 0 1 2.2 0M143.4 207.3a1.4 1.4 0 0 1 2.2 0M143.4 212.2a1.4 1.4 0 0 1 2.2 0M143.4 217.0a1.4 1.4 0 0 1 2.2 0M143.4 221.9a1.4 1.4 0 0 1 2.2 0M143.4 226.7a1.4 1.4 0 0 1 2.2 0M143.4 231.6a1.4 1.4 0 0 1 2.2 0M143.4 236.4a1.4 1.4 0 0 1 2.2 0M143.4 241.3a1.4 1.4 0 0 1 2.2 0M143.4 246.1a1.4 1.4 0 0 1 2.2 0M143.4 251.0a1.4 1.4 0 0 1 2.2 0M143.4 255.8a1.4 1.4 0 0 1 2.2 0M143.4 260.7a1.4 1.4 0 0 1 2.2 0M143.4 265.5a1.4 1.4 0 0 1 2.2 0M143.4 270.4a1.4 1.4 0 0 1 2.2 0M143.4 275.2a1.4 1.4 0 0 1 2.2 0M143.4 280.1a1.4 1.4 0 0 1 2.2 0M143.4 284.9a1.4 1.4 0 0 1 2.2 0M143.4 289.8a1.4 1.4 0 0 1 2.2 0M143.4 294.6a1.4 1.4 0 0 1 2.2 0M143.4 299.5a1.4 1.4 0 0 1 2.2 0M143.4 304.3a1.4 1.4 0 0 1 2.2 0M143.4 309.2a1.4 1.4 0 0 1 2.2 0M143.4 314.0a1.4 1.4 0 0 1 2.2 0M143.4 318.9a1.4 1.4 0 0 1 2.2 0M143.4 323.7a1.4 1.4 0 0 1 2.2 0M148.2 168.5a1.4 1.4 0 0 1 2.2 0M148.2 173.4a1.4 1.4 0 0 1 2.2 0M148.2 178.2a1.4 1.4 0 0 1 2.2 0M148.2 183.1a1.4 1.4 0 0 1 2.2 0M148.2 187.9a1.4 1.4 0 0 1 2.2 0M148.2 192.8a1.4 1.4 0 0 1 2.2 0M148.2 197.6a1.4 1.4 0 0 1 2.2 0M148.2 202.5a1.4 1.4 0 0 1 2.2 0M148.2 207.3a1.4 1.4 0 0 1 2.2 0M148.2 212.2a1.4 1.4 0 0 1 2.2 0M148.2 217.0a1.4 1.4 0 0 1 2.2 0M148.2 221.9a1.4 1.4 0 0 1 2.2 0M148.2 226.7a1.4 1.4 0 0 1 2.2 0M148.2 231.6a1.4 1.4 0 0 1 2.2 0M148.2 236.4a1.4 1.4 0 0 1 2.2 0M148.2 241.3a1.4 1.4 0 0 1 2.2 0M148.2 246.1a1.4 1.4 0 0 1 2.2 0M148.2 251.0a1.4 1.4 0 0 1 2.2 0M148.2 255.8a1.4 1.4 0 0 1 2.2 0M148.2 260.7a1.4 1.4 0 0 1 2.2 0M148.2 265.5a1.4 1.4 0 0 1 2.2 0M148.2 270.4a1.4 1.4 0 0 1 2.2 0M148.2 275.2a1.4 1.4 0 0 1 2.2 0M148.2 280.1a1.4 1.4 0 0 1 2.2 0M148.2 284.9a1.4 1.4 0 0 1 2.2 0M148.2 289.8a1.4 1.4 0 0 1 2.2 0M148.2 294.6a1.4 1.4 0 0 1 2.2 0M148.2 299.5a1.4 1.4 0 0 1 2.2 0M148.2 304.3a1.4 1.4 0 0 1 2.2 0M148.2 309.2a1.4 1.4 0 0 1 2.2 0M148.2 314.0a1.4 1.4 0 0 1 2.2 0M148.2 318.9a1.4 1.4 0 0 1 2.2 0M148.2 323.7a1.4 1.4 0 0 1 2.2 0M153.1 168.5a1.4 1.4 0 0 1 2.2 0M153.1 173.4a1.4 1.4 0 0 1 2.2 0M153.1 178.2a1.4 1.4 0 0 1 2.2 0M153.1 183.1a1.4 1.4 0 0 1 2.2 0M153.1 187.9a1.4 1.4 0 0 1 2.2 0M153.1 192.8a1.4 1.4 0 0 1 2.2 0M153.1 197.6a1.4 1.4 0 0 1 2.2 0M153.1 202.5a1.4 1.4 0 0 1 2.2 0M153.1 207.3a1.4 1.4 0 0 1 2.2 0M153.1 212.2a1.4 1.4 0 0 1 2.2 0M153.1 217.0a1.4 1.4 0 0 1 2.2 0M153.1 221.9a1.4 1.4 0 0 1 2.2 0M153.1 226.7a1.4 1.4 0 0 1 2.2 0M153.1 231.6a1.4 1.4 0 0 1 2.2 0M153.1 236.4a1.4 1.4 0 0 1 2.2 0M153.1 241.3a1.4 1.4 0 0 1 2.2 0M153.1 246.1a1.4 1.4 0 0 1 2.2 0M153.1 251.0a1.4 1.4 0 0 1 2.2 0M153.1 255.8a1.4 1.4 0 0 1 2.2 0M153.1 260.7a1.4 1.4 0 0 1 2.2 0M153.1 265.5a1.4 1.4 0 0 1 2.2 0M153.1 270.4a1.4 1.4 0 0 1 2.2 0M153.1 275.2a1.4 1.4 0 0 1 2.2 0M153.1 280.1a1.4 1.4 0 0 1 2.2 0M153.1 284.9a1.4 1.4 0 0 1 2.2 0M153.1 289.8a1.4 1.4 0 0 1 2.2 0M153.1 294.6a1.4 1.4 0 0 1 2.2 0M153.1 299.5a1.4 1.4 0 0 1 2.2 0M153.1 304.3a1.4 1.4 0 0 1 2.2 0M153.1 309.2a1.4 1.4 0 0 1 2.2 0M153.1 314.0a1.4 1.4 0 0 1 2.2 0M153.1 318.9a1.4 1.4 0 0 1 2.2 0M153.1 323.7a1.4 1.4 0 0 1 2.2 0M157.9 168.5a1.4 1.4 0 0 1 2.2 0M157.9 173.4a1.4 1.4 0 0 1 2.2 0M157.9 178.2a1.4 1.4 0 0 1 2.2 0M157.9 183.1a1.4 1.4 0 0 1 2.2 0M157.9 187.9a1.4 1.4 0 0 1 2.2 0M157.9 192.8a1.4 1.4 0 0 1 2.2 0M157.9 197.6a1.4 1.4 0 0 1 2.2 0M157.9 202.5a1.4 1.4 0 0 1 2.2 0M157.9 207.3a1.4 1.4 0 0 1 2.2 0M157.9 212.2a1.4 1.4 0 0 1 2.2 0M157.9 217.0a1.4 1.4 0 0 1 2.2 0M157.9 221.9a1.4 1.4 0 0 1 2.2 0M157.9 226.7a1.4 1.4 0 0 1 2.2 0M157.9 231.6a1.4 1.4 0 0 1 2.2 0M157.9 236.4a1.4 1.4 0 0 1 2.2 0M157.9 241.3a1.4 1.4 0 0 1 2.2 0M157.9 246.1a1.4 1.4 0 0 1 2.2 0M157.9 251.0a1.4 1.4 0 0 1 2.2 0M157.9 255.8a1.4 1.4 0 0 1 2.2 0M157.9 260.7a1.4 1.4 0 0 1 2.2 0M157.9 265.5a1.4 1.4 0 0 1 2.2 0M157.9 270.4a1.4 1.4 0 0 1 2.2 0M157.9 275.2a1.4 1.4 0 0 1 2.2 0M157.9 280.1a1.4 1.4 0 0 1 2.2 0M157.9 284.9a1.4 1.4 0 0 1 2.2 0M157.9 289.8a1.4 1.4 0 0 1 2.2 0M157.9 294.6a1.4 1.4 0 0 1 2.2 0M157.9 299.5a1.4 1.4 0 0 1 2.2 0M157.9 304.3a1.4 1.4 0 0 1 2.2 0M157.9 309.2a1.4 1.4 0 0 1 2.2 0M157.9 314.0a1.4 1.4 0 0 1 2.2 0M157.9 318.9a1.4 1.4 0 0 1 2.2 0M157.9 323.7a1.4 1.4 0 0 1 2.2 0M162.8 168.5a1.4 1.4 0 0 1 2.2 0M162.8 173.4a1.4 1.4 0 0 1 2.2 0M162.8 178.2a1.4 1.4 0 0 1 2.2 0M162.8 183.1a1.4 1.4 0 0 1 2.2 0M162.8 187.9a1.4 1.4 0 0 1 2.2 0M162.8 192.8a1.4 1.4 0 0 1 2.2 0M162.8 197.6a1.4 1.4 0 0 1 2.2 0M162.8 202.5a1.4 1.4 0 0 1 2.2 0M162.8 207.3a1.4 1.4 0 0 1 2.2 0M162.8 212.2a1.4 1.4 0 0 1 2.2 0M162.8 217.0a1.4 1.4 0 0 1 2.2 0M162.8 221.9a1.4 1.4 0 0 1 2.2 0M162.8 226.7a1.4 1.4 0 0 1 2.2 0M162.8 231.6a1.4 1.4 0 0 1 2.2 0M162.8 236.4a1.4 1.4 0 0 1 2.2 0M162.8 241.3a1.4 1.4 0 0 1 2.2 0M162.8 246.1a1.4 1.4 0 0 1 2.2 0M162.8 251.0a1.4 1.4 0 0 1 2.2 0M162.8 255.8a1.4 1.4 0 0 1 2.2 0M162.8 260.7a1.4 1.4 0 0 1 2.2 0M162.8 265.5a1.4 1.4 0 0 1 2.2 0M162.8 270.4a1.4 1.4 0 0 1 2.2 0M162.8 275.2a1.4 1.4 0 0 1 2.2 0M162.8 280.1a1.4 1.4 0 0 1 2.2 0M162.8 284.9a1.4 1.4 0 0 1 2.2 0M162.8 289.8a1.4 1.4 0 0 1 2.2 0M162.8 294.6a1.4 1.4 0 0 1 2.2 0M162.8 299.5a1.4 1.4 0 0 1 2.2 0M162.8 304.3a1.4 1.4 0 0 1 2.2 0M162.8 309.2a1.4 1.4 0 0 1 2.2 0M162.8 314.0a1.4 1.4 0 0 1 2.2 0M162.8 318.9a1.4 1.4 0 0 1 2.2 0M162.8 323.7a1.4 1.4 0 0 1 2.2 0M167.6 168.5a1.4 1.4 0 0 1 2.2 0M167.6 173.4a1.4 1.4 0 0 1 2.2 0M167.6 178.2a1.4 1.4 0 0 1 2.2 0M167.6 183.1a1.4 1.4 0 0 1 2.2 0M167.6 187.9a1.4 1.4 0 0 1 2.2 0M167.6 192.8a1.4 1.4 0 0 1 2.2 0M167.6 197.6a1.4 1.4 0 0 1 2.2 0M167.6 202.5a1.4 1.4 0 0 1 2.2 0M167.6 207.3a1.4 1.4 0 0 1 2.2 0M167.6 212.2a1.4 1.4 0 0 1 2.2 0M167.6 217.0a1.4 1.4 0 0 1 2.2 0M167.6 221.9a1.4 1.4 0 0 1 2.2 0M167.6 226.7a1.4 1.4 0 0 1 2.2 0M167.6 231.6a1.4 1.4 0 0 1 2.2 0M167.6 236.4a1.4 1.4 0 0 1 2.2 0M167.6 241.3a1.4 1.4 0 0 1 2.2 0M167.6 246.1a1.4 1.4 0 0 1 2.2 0M167.6 251.0a1.4 1.4 0 0 1 2.2 0M167.6 255.8a1.4 1.4 0 0 1 2.2 0M167.6 260.7a1.4 1.4 0 0 1 2.2 0M167.6 265.5a1.4 1.4 0 0 1 2.2 0M167.6 270.4a1.4 1.4 0 0 1 2.2 0M167.6 275.2a1.4 1.4 0 0 1 2.2 0M167.6 280.1a1.4 1.4 0 0 1 2.2 0M167.6 284.9a1.4 1.4 0 0 1 2.2 0M167.6 289.8a1.4 1.4 0 0 1 2.2 0M167.6 294.6a1.4 1.4 0 0 1 2.2 0M167.6 299.5a1.4 1.4 0 0 1 2.2 0M167.6 304.3a1.4 1.4 0 0 1 2.2 0M167.6 309.2a1.4 1.4 0 0 1 2.2 0M167.6 314.0a1.4 1.4 0 0 1 2.2 0M167.6 318.9a1.4 1.4 0 0 1 2.2 0M167.6 323.7a1.4 1.4 0 0 1 2.2 0M172.5 168.5a1.4 1.4 0 0 1 2.2 0M172.5 173.4a1.4 1.4 0 0 1 2.2 0M172.5 178.2a1.4 1.4 0 0 1 2.2 0M172.5 183.1a1.4 1.4 0 0 1 2.2 0M172.5 187.9a1.4 1.4 0 0 1 2.2 0M172.5 192.8a1.4 1.4 0 0 1 2.2 0M172.5 197.6a1.4 1.4 0 0 1 2.2 0M172.5 202.5a1.4 1.4 0 0 1 2.2 0M172.5 207.3a1.4 1.4 0 0 1 2.2 0M172.5 212.2a1.4 1.4 0 0 1 2.2 0M172.5 217.0a1.4 1.4 0 0 1 2.2 0M172.5 221.9a1.4 1.4 0 0 1 2.2 0M172.5 226.7a1.4 1.4 0 0 1 2.2 0M172.5 231.6a1.4 1.4 0 0 1 2.2 0M172.5 236.4a1.4 1.4 0 0 1 2.2 0M172.5 241.3a1.4 1.4 0 0 1 2.2 0M172.5 246.1a1.4 1.4 0 0 1 2.2 0M172.5 251.0a1.4 1.4 0 0 1 2.2 0M172.5 255.8a1.4 1.4 0 0 1 2.2 0M172.5 260.7a1.4 1.4 0 0 1 2.2 0M172.5 265.5a1.4 1.4 0 0 1 2.2 0M172.5 270.4a1.4 1.4 0 0 1 2.2 0M172.5 275.2a1.4 1.4 0 0 1 2.2 0M172.5 280.1a1.4 1.4 0 0 1 2.2 0M172.5 284.9a1.4 1.4 0 0 1 2.2 0M172.5 289.8a1.4 1.4 0 0 1 2.2 0M172.5 294.6a1.4 1.4 0 0 1 2.2 0M172.5 299.5a1.4 1.4 0 0 1 2.2 0M172.5 304.3a1.4 1.4 0 0 1 2.2 0M172.5 309.2a1.4 1.4 0 0 1 2.2 0M172.5 314.0a1.4 1.4 0 0 1 2.2 0M172.5 318.9a1.4 1.4 0 0 1 2.2 0M172.5 323.7a1.4 1.4 0 0 1 2.2 0M177.3 168.5a1.4 1.4 0 0 1 2.2 0M177.3 173.4a1.4 1.4 0 0 1 2.2 0M177.3 178.2a1.4 1.4 0 0 1 2.2 0M177.3 183.1a1.4 1.4 0 0 1 2.2 0M177.3 187.9a1.4 1.4 0 0 1 2.2 0M177.3 192.8a1.4 1.4 0 0 1 2.2 0M177.3 197.6a1.4 1.4 0 0 1 2.2 0M177.3 202.5a1.4 1.4 0 0 1 2.2 0M177.3 207.3a1.4 1.4 0 0 1 2.2 0M177.3 212.2a1.4 1.4 0 0 1 2.2 0M177.3 217.0a1.4 1.4 0 0 1 2.2 0M177.3 221.9a1.4 1.4 0 0 1 2.2 0M177.3 226.7a1.4 1.4 0 0 1 2.2 0M177.3 231.6a1.4 1.4 0 0 1 2.2 0M177.3 236.4a1.4 1.4 0 0 1 2.2 0M177.3 241.3a1.4 1.4 0 0 1 2.2 0M177.3 246.1a1.4 1.4 0 0 1 2.2 0M177.3 251.0a1.4 1.4 0 0 1 2.2 0M177.3 255.8a1.4 1.4 0 0 1 2.2 0M177.3 260.7a1.4 1.4 0 0 1 2.2 0M177.3 265.5a1.4 1.4 0 0 1 2.2 0M177.3 270.4a1.4 1.4 0 0 1 2.2 0M177.3 275.2a1.4 1.4 0 0 1 2.2 0M177.3 280.1a1.4 1.4 0 0 1 2.2 0M177.3 284.9a1.4 1.4 0 0 1 2.2 0M177.3 289.8a1.4 1.4 0 0 1 2.2 0M177.3 294.6a1.4 1.4 0 0 1 2.2 0M177.3 299.5a1.4 1.4 0 0 1 2.2 0M177.3 304.3a1.4 1.4 0 0 1 2.2 0M177.3 309.2a1.4 1.4 0 0 1 2.2 0M177.3 314.0a1.4 1.4 0 0 1 2.2 0M177.3 318.9a1.4 1.4 0 0 1 2.2 0M177.3 323.7a1.4 1.4 0 0 1 2.2 0M182.2 168.5a1.4 1.4 0 0 1 2.2 0M182.2 173.4a1.4 1.4 0 0 1 2.2 0M182.2 178.2a1.4 1.4 0 0 1 2.2 0M182.2 183.1a1.4 1.4 0 0 1 2.2 0M182.2 187.9a1.4 1.4 0 0 1 2.2 0M182.2 192.8a1.4 1.4 0 0 1 2.2 0M182.2 197.6a1.4 1.4 0 0 1 2.2 0M182.2 202.5a1.4 1.4 0 0 1 2.2 0M182.2 207.3a1.4 1.4 0 0 1 2.2 0M182.2 212.2a1.4 1.4 0 0 1 2.2 0M182.2 217.0a1.4 1.4 0 0 1 2.2 0M182.2 221.9a1.4 1.4 0 0 1 2.2 0M182.2 226.7a1.4 1.4 0 0 1 2.2 0M182.2 231.6a1.4 1.4 0 0 1 2.2 0M182.2 236.4a1.4 1.4 0 0 1 2.2 0M182.2 241.3a1.4 1.4 0 0 1 2.2 0M182.2 246.1a1.4 1.4 0 0 1 2.2 0M182.2 251.0a1.4 1.4 0 0 1 2.2 0M182.2 255.8a1.4 1.4 0 0 1 2.2 0M182.2 260.7a1.4 1.4 0 0 1 2.2 0M182.2 265.5a1.4 1.4 0 0 1 2.2 0M182.2 270.4a1.4 1.4 0 0 1 2.2 0M182.2 275.2a1.4 1.4 0 0 1 2.2 0M182.2 280.1a1.4 1.4 0 0 1 2.2 0M182.2 284.9a1.4 1.4 0 0 1 2.2 0M182.2 289.8a1.4 1.4 0 0 1 2.2 0M182.2 294.6a1.4 1.4 0 0 1 2.2 0M182.2 299.5a1.4 1.4 0 0 1 2.2 0M182.2 304.3a1.4 1.4 0 0 1 2.2 0M182.2 309.2a1.4 1.4 0 0 1 2.2 0M182.2 314.0a1.4 1.4 0 0 1 2.2 0M182.2 318.9a1.4 1.4 0 0 1 2.2 0M182.2 323.7a1.4 1.4 0 0 1 2.2 0M187.0 168.5a1.4 1.4 0 0 1 2.2 0M187.0 173.4a1.4 1.4 0 0 1 2.2 0M187.0 178.2a1.4 1.4 0 0 1 2.2 0M187.0 183.1a1.4 1.4 0 0 1 2.2 0M187.0 187.9a1.4 1.4 0 0 1 2.2 0M187.0 192.8a1.4 1.4 0 0 1 2.2 0M187.0 197.6a1.4 1.4 0 0 1 2.2 0M187.0 202.5a1.4 1.4 0 0 1 2.2 0M187.0 207.3a1.4 1.4 0 0 1 2.2 0M187.0 212.2a1.4 1.4 0 0 1 2.2 0M187.0 217.0a1.4 1.4 0 0 1 2.2 0M187.0 221.9a1.4 1.4 0 0 1 2.2 0M187.0 226.7a1.4 1.4 0 0 1 2.2 0M187.0 231.6a1.4 1.4 0 0 1 2.2 0M187.0 236.4a1.4 1.4 0 0 1 2.2 0M187.0 241.3a1.4 1.4 0 0 1 2.2 0M187.0 246.1a1.4 1.4 0 0 1 2.2 0M187.0 251.0a1.4 1.4 0 0 1 2.2 0M187.0 255.8a1.4 1.4 0 0 1 2.2 0M187.0 260.7a1.4 1.4 0 0 1 2.2 0M187.0 265.5a1.4 1.4 0 0 1 2.2 0M187.0 270.4a1.4 1.4 0 0 1 2.2 0M187.0 275.2a1.4 1.4 0 0 1 2.2 0M187.0 280.1a1.4 1.4 0 0 1 2.2 0M187.0 284.9a1.4 1.4 0 0 1 2.2 0M187.0 289.8a1.4 1.4 0 0 1 2.2 0M187.0 294.6a1.4 1.4 0 0 1 2.2 0M187.0 299.5a1.4 1.4 0 0 1 2.2 0M187.0 304.3a1.4 1.4 0 0 1 2.2 0M187.0 309.2a1.4 1.4 0 0 1 2.2 0M187.0 314.0a1.4 1.4 0 0 1 2.2 0M187.0 318.9a1.4 1.4 0 0 1 2.2 0M187.0 323.7a1.4 1.4 0 0 1 2.2 0M191.9 168.5a1.4 1.4 0 0 1 2.2 0M191.9 173.4a1.4 1.4 0 0 1 2.2 0M191.9 178.2a1.4 1.4 0 0 1 2.2 0M191.9 183.1a1.4 1.4 0 0 1 2.2 0M191.9 187.9a1.4 1.4 0 0 1 2.2 0M191.9 192.8a1.4 1.4 0 0 1 2.2 0M191.9 197.6a1.4 1.4 0 0 1 2.2 0M191.9 202.5a1.4 1.4 0 0 1 2.2 0M191.9 207.3a1.4 1.4 0 0 1 2.2 0M191.9 212.2a1.4 1.4 0 0 1 2.2 0M191.9 217.0a1.4 1.4 0 0 1 2.2 0M191.9 221.9a1.4 1.4 0 0 1 2.2 0M191.9 226.7a1.4 1.4 0 0 1 2.2 0M191.9 231.6a1.4 1.4 0 0 1 2.2 0M191.9 236.4a1.4 1.4 0 0 1 2.2 0M191.9 241.3a1.4 1.4 0 0 1 2.2 0M191.9 246.1a1.4 1.4 0 0 1 2.2 0M191.9 251.0a1.4 1.4 0 0 1 2.2 0M191.9 255.8a1.4 1.4 0 0 1 2.2 0M191.9 260.7a1.4 1.4 0 0 1 2.2 0M191.9 265.5a1.4 1.4 0 0 1 2.2 0M191.9 270.4a1.4 1.4 0 0 1 2.2 0M191.9 275.2a1.4 1.4 0 0 1 2.2 0M191.9 280.1a1.4 1.4 0 0 1 2.2 0M191.9 284.9a1.4 1.4 0 0 1 2.2 0M191.9 289.8a1.4 1.4 0 0 1 2.2 0M191.9 294.6a1.4 1.4 0 0 1 2.2 0M191.9 299.5a1.4 1.4 0 0 1 2.2 0M191.9 304.3a1.4 1.4 0 0 1 2.2 0M191.9 309.2a1.4 1.4 0 0 1 2.2 0M191.9 314.0a1.4 1.4 0 0 1 2.2 0M191.9 318.9a1.4 1.4 0 0 1 2.2 0M191.9 323.7a1.4 1.4 0 0 1 2.2 0M196.7 168.5a1.4 1.4 0 0 1 2.2 0M196.7 173.4a1.4 1.4 0 0 1 2.2 0M196.7 178.2a1.4 1.4 0 0 1 2.2 0M196.7 183.1a1.4 1.4 0 0 1 2.2 0M196.7 187.9a1.4 1.4 0 0 1 2.2 0M196.7 192.8a1.4 1.4 0 0 1 2.2 0M196.7 197.6a1.4 1.4 0 0 1 2.2 0M196.7 202.5a1.4 1.4 0 0 1 2.2 0M196.7 207.3a1.4 1.4 0 0 1 2.2 0M196.7 212.2a1.4 1.4 0 0 1 2.2 0M196.7 217.0a1.4 1.4 0 0 1 2.2 0M196.7 221.9a1.4 1.4 0 0 1 2.2 0M196.7 226.7a1.4 1.4 0 0 1 2.2 0M196.7 231.6a1.4 1.4 0 0 1 2.2 0M196.7 236.4a1.4 1.4 0 0 1 2.2 0M196.7 241.3a1.4 1.4 0 0 1 2.2 0M196.7 246.1a1.4 1.4 0 0 1 2.2 0M196.7 251.0a1.4 1.4 0 0 1 2.2 0M196.7 255.8a1.4 1.4 0 0 1 2.2 0M196.7 260.7a1.4 1.4 0 0 1 2.2 0M196.7 265.5a1.4 1.4 0 0 1 2.2 0M196.7 270.4a1.4 1.4 0 0 1 2.2 0M196.7 275.2a1.4 1.4 0 0 1 2.2 0M196.7 280.1a1.4 1.4 0 0 1 2.2 0M196.7 284.9a1.4 1.4 0 0 1 2.2 0M196.7 289.8a1.4 1.4 0 0 1 2.2 0M196.7 294.6a1.4 1.4 0 0 1 2.2 0M196.7 299.5a1.4 1.4 0 0 1 2.2 0M196.7 304.3a1.4 1.4 0 0 1 2.2 0M196.7 309.2a1.4 1.4 0 0 1 2.2 0M196.7 314.0a1.4 1.4 0 0 1 2.2 0M196.7 318.9a1.4 1.4 0 0 1 2.2 0M196.7 323.7a1.4 1.4 0 0 1 2.2 0M201.6 168.5a1.4 1.4 0 0 1 2.2 0M201.6 173.4a1.4 1.4 0 0 1 2.2 0M201.6 178.2a1.4 1.4 0 0 1 2.2 0M201.6 183.1a1.4 1.4 0 0 1 2.2 0M201.6 187.9a1.4 1.4 0 0 1 2.2 0M201.6 192.8a1.4 1.4 0 0 1 2.2 0M201.6 197.6a1.4 1.4 0 0 1 2.2 0M201.6 202.5a1.4 1.4 0 0 1 2.2 0M201.6 207.3a1.4 1.4 0 0 1 2.2 0M201.6 212.2a1.4 1.4 0 0 1 2.2 0M201.6 217.0a1.4 1.4 0 0 1 2.2 0M201.6 221.9a1.4 1.4 0 0 1 2.2 0M201.6 226.7a1.4 1.4 0 0 1 2.2 0M201.6 231.6a1.4 1.4 0 0 1 2.2 0M201.6 236.4a1.4 1.4 0 0 1 2.2 0M201.6 241.3a1.4 1.4 0 0 1 2.2 0M201.6 246.1a1.4 1.4 0 0 1 2.2 0M201.6 251.0a1.4 1.4 0 0 1 2.2 0M201.6 255.8a1.4 1.4 0 0 1 2.2 0M201.6 260.7a1.4 1.4 0 0 1 2.2 0M201.6 265.5a1.4 1.4 0 0 1 2.2 0M201.6 270.4a1.4 1.4 0 0 1 2.2 0M201.6 275.2a1.4 1.4 0 0 1 2.2 0M201.6 280.1a1.4 1.4 0 0 1 2.2 0M201.6 284.9a1.4 1.4 0 0 1 2.2 0M201.6 289.8a1.4 1.4 0 0 1 2.2 0M201.6 294.6a1.4 1.4 0 0 1 2.2 0M201.6 299.5a1.4 1.4 0 0 1 2.2 0M201.6 304.3a1.4 1.4 0 0 1 2.2 0M201.6 309.2a1.4 1.4 0 0 1 2.2 0M201.6 314.0a1.4 1.4 0 0 1 2.2 0M201.6 318.9a1.4 1.4 0 0 1 2.2 0M201.6 323.7a1.4 1.4 0 0 1 2.2 0M206.4 168.5a1.4 1.4 0 0 1 2.2 0M206.4 173.4a1.4 1.4 0 0 1 2.2 0M206.4 178.2a1.4 1.4 0 0 1 2.2 0M206.4 183.1a1.4 1.4 0 0 1 2.2 0M206.4 187.9a1.4 1.4 0 0 1 2.2 0M206.4 192.8a1.4 1.4 0 0 1 2.2 0M206.4 197.6a1.4 1.4 0 0 1 2.2 0M206.4 202.5a1.4 1.4 0 0 1 2.2 0M206.4 207.3a1.4 1.4 0 0 1 2.2 0M206.4 212.2a1.4 1.4 0 0 1 2.2 0M206.4 217.0a1.4 1.4 0 0 1 2.2 0M206.4 221.9a1.4 1.4 0 0 1 2.2 0M206.4 226.7a1.4 1.4 0 0 1 2.2 0M206.4 231.6a1.4 1.4 0 0 1 2.2 0M206.4 236.4a1.4 1.4 0 0 1 2.2 0M206.4 241.3a1.4 1.4 0 0 1 2.2 0M206.4 246.1a1.4 1.4 0 0 1 2.2 0M206.4 251.0a1.4 1.4 0 0 1 2.2 0M206.4 255.8a1.4 1.4 0 0 1 2.2 0M206.4 260.7a1.4 1.4 0 0 1 2.2 0M206.4 265.5a1.4 1.4 0 0 1 2.2 0M206.4 270.4a1.4 1.4 0 0 1 2.2 0M206.4 275.2a1.4 1.4 0 0 1 2.2 0M206.4 280.1a1.4 1.4 0 0 1 2.2 0M206.4 284.9a1.4 1.4 0 0 1 2.2 0M206.4 289.8a1.4 1.4 0 0 1 2.2 0M206.4 294.6a1.4 1.4 0 0 1 2.2 0M206.4 299.5a1.4 1.4 0 0 1 2.2 0M206.4 304.3a1.4 1.4 0 0 1 2.2 0M206.4 309.2a1.4 1.4 0 0 1 2.2 0M206.4 314.0a1.4 1.4 0 0 1 2.2 0M206.4 318.9a1.4 1.4 0 0 1 2.2 0M206.4 323.7a1.4 1.4 0 0 1 2.2 0M211.3 168.5a1.4 1.4 0 0 1 2.2 0M211.3 173.4a1.4 1.4 0 0 1 2.2 0M211.3 178.2a1.4 1.4 0 0 1 2.2 0M211.3 183.1a1.4 1.4 0 0 1 2.2 0M211.3 187.9a1.4 1.4 0 0 1 2.2 0M211.3 192.8a1.4 1.4 0 0 1 2.2 0M211.3 197.6a1.4 1.4 0 0 1 2.2 0M211.3 202.5a1.4 1.4 0 0 1 2.2 0M211.3 207.3a1.4 1.4 0 0 1 2.2 0M211.3 212.2a1.4 1.4 0 0 1 2.2 0M211.3 217.0a1.4 1.4 0 0 1 2.2 0M211.3 221.9a1.4 1.4 0 0 1 2.2 0M211.3 226.7a1.4 1.4 0 0 1 2.2 0M211.3 231.6a1.4 1.4 0 0 1 2.2 0M211.3 236.4a1.4 1.4 0 0 1 2.2 0M211.3 241.3a1.4 1.4 0 0 1 2.2 0M211.3 246.1a1.4 1.4 0 0 1 2.2 0M211.3 251.0a1.4 1.4 0 0 1 2.2 0M211.3 255.8a1.4 1.4 0 0 1 2.2 0M211.3 260.7a1.4 1.4 0 0 1 2.2 0M211.3 265.5a1.4 1.4 0 0 1 2.2 0M211.3 270.4a1.4 1.4 0 0 1 2.2 0M211.3 275.2a1.4 1.4 0 0 1 2.2 0M211.3 280.1a1.4 1.4 0 0 1 2.2 0M211.3 284.9a1.4 1.4 0 0 1 2.2 0M211.3 289.8a1.4 1.4 0 0 1 2.2 0M211.3 294.6a1.4 1.4 0 0 1 2.2 0M211.3 299.5a1.4 1.4 0 0 1 2.2 0M211.3 304.3a1.4 1.4 0 0 1 2.2 0M211.3 309.2a1.4 1.4 0 0 1 2.2 0M211.3 314.0a1.4 1.4 0 0 1 2.2 0M211.3 318.9a1.4 1.4 0 0 1 2.2 0M211.3 323.7a1.4 1.4 0 0 1 2.2 0M216.1 168.5a1.4 1.4 0 0 1 2.2 0M216.1 173.4a1.4 1.4 0 0 1 2.2 0M216.1 178.2a1.4 1.4 0 0 1 2.2 0M216.1 183.1a1.4 1.4 0 0 1 2.2 0M216.1 187.9a1.4 1.4 0 0 1 2.2 0M216.1 192.8a1.4 1.4 0 0 1 2.2 0M216.1 197.6a1.4 1.4 0 0 1 2.2 0M216.1 202.5a1.4 1.4 0 0 1 2.2 0M216.1 207.3a1.4 1.4 0 0 1 2.2 0M216.1 212.2a1.4 1.4 0 0 1 2.2 0M216.1 217.0a1.4 1.4 0 0 1 2.2 0M216.1 221.9a1.4 1.4 0 0 1 2.2 0M216.1 226.7a1.4 1.4 0 0 1 2.2 0M216.1 231.6a1.4 1.4 0 0 1 2.2 0M216.1 236.4a1.4 1.4 0 0 1 2.2 0M216.1 241.3a1.4 1.4 0 0 1 2.2 0M216.1 246.1a1.4 1.4 0 0 1 2.2 0M216.1 251.0a1.4 1.4 0 0 1 2.2 0M216.1 255.8a1.4 1.4 0 0 1 2.2 0M216.1 260.7a1.4 1.4 0 0 1 2.2 0M216.1 265.5a1.4 1.4 0 0 1 2.2 0M216.1 270.4a1.4 1.4 0 0 1 2.2 0M216.1 275.2a1.4 1.4 0 0 1 2.2 0M216.1 280.1a1.4 1.4 0 0 1 2.2 0M216.1 284.9a1.4 1.4 0 0 1 2.2 0M216.1 289.8a1.4 1.4 0 0 1 2.2 0M216.1 294.6a1.4 1.4 0 0 1 2.2 0M216.1 299.5a1.4 1.4 0 0 1 2.2 0M216.1 304.3a1.4 1.4 0 0 1 2.2 0M216.1 309.2a1.4 1.4 0 0 1 2.2 0M216.1 314.0a1.4 1.4 0 0 1 2.2 0M216.1 318.9a1.4 1.4 0 0 1 2.2 0M216.1 323.7a1.4 1.4 0 0 1 2.2 0M221.0 168.5a1.4 1.4 0 0 1 2.2 0M221.0 173.4a1.4 1.4 0 0 1 2.2 0M221.0 178.2a1.4 1.4 0 0 1 2.2 0M221.0 183.1a1.4 1.4 0 0 1 2.2 0M221.0 187.9a1.4 1.4 0 0 1 2.2 0M221.0 192.8a1.4 1.4 0 0 1 2.2 0M221.0 197.6a1.4 1.4 0 0 1 2.2 0M221.0 202.5a1.4 1.4 0 0 1 2.2 0M221.0 207.3a1.4 1.4 0 0 1 2.2 0M221.0 212.2a1.4 1.4 0 0 1 2.2 0M221.0 217.0a1.4 1.4 0 0 1 2.2 0M221.0 221.9a1.4 1.4 0 0 1 2.2 0M221.0 226.7a1.4 1.4 0 0 1 2.2 0M221.0 231.6a1.4 1.4 0 0 1 2.2 0M221.0 236.4a1.4 1.4 0 0 1 2.2 0M221.0 241.3a1.4 1.4 0 0 1 2.2 0M221.0 246.1a1.4 1.4 0 0 1 2.2 0M221.0 251.0a1.4 1.4 0 0 1 2.2 0M221.0 255.8a1.4 1.4 0 0 1 2.2 0M221.0 260.7a1.4 1.4 0 0 1 2.2 0M221.0 265.5a1.4 1.4 0 0 1 2.2 0M221.0 270.4a1.4 1.4 0 0 1 2.2 0M221.0 275.2a1.4 1.4 0 0 1 2.2 0M221.0 280.1a1.4 1.4 0 0 1 2.2 0M221.0 284.9a1.4 1.4 0 0 1 2.2 0M221.0 289.8a1.4 1.4 0 0 1 2.2 0M221.0 294.6a1.4 1.4 0 0 1 2.2 0M221.0 299.5a1.4 1.4 0 0 1 2.2 0M221.0 304.3a1.4 1.4 0 0 1 2.2 0M221.0 309.2a1.4 1.4 0 0 1 2.2 0M221.0 314.0a1.4 1.4 0 0 1 2.2 0M221.0 318.9a1.4 1.4 0 0 1 2.2 0M221.0 323.7a1.4 1.4 0 0 1 2.2 0M225.8 168.5a1.4 1.4 0 0 1 2.2 0M225.8 173.4a1.4 1.4 0 0 1 2.2 0M225.8 178.2a1.4 1.4 0 0 1 2.2 0M225.8 183.1a1.4 1.4 0 0 1 2.2 0M225.8 187.9a1.4 1.4 0 0 1 2.2 0M225.8 192.8a1.4 1.4 0 0 1 2.2 0M225.8 197.6a1.4 1.4 0 0 1 2.2 0M225.8 202.5a1.4 1.4 0 0 1 2.2 0M225.8 207.3a1.4 1.4 0 0 1 2.2 0M225.8 212.2a1.4 1.4 0 0 1 2.2 0M225.8 217.0a1.4 1.4 0 0 1 2.2 0M225.8 221.9a1.4 1.4 0 0 1 2.2 0M225.8 226.7a1.4 1.4 0 0 1 2.2 0M225.8 231.6a1.4 1.4 0 0 1 2.2 0M225.8 236.4a1.4 1.4 0 0 1 2.2 0M225.8 241.3a1.4 1.4 0 0 1 2.2 0M225.8 246.1a1.4 1.4 0 0 1 2.2 0M225.8 251.0a1.4 1.4 0 0 1 2.2 0M225.8 255.8a1.4 1.4 0 0 1 2.2 0M225.8 260.7a1.4 1.4 0 0 1 2.2 0M225.8 265.5a1.4 1.4 0 0 1 2.2 0M225.8 270.4a1.4 1.4 0 0 1 2.2 0M225.8 275.2a1.4 1.4 0 0 1 2.2 0M225.8 280.1a1.4 1.4 0 0 1 2.2 0M225.8 284.9a1.4 1.4 0 0 1 2.2 0M225.8 289.8a1.4 1.4 0 0 1 2.2 0M225.8 294.6a1.4 1.4 0 0 1 2.2 0M225.8 299.5a1.4 1.4 0 0 1 2.2 0M225.8 304.3a1.4 1.4 0 0 1 2.2 0M225.8 309.2a1.4 1.4 0 0 1 2.2 0M225.8 314.0a1.4 1.4 0 0 1 2.2 0M225.8 318.9a1.4 1.4 0 0 1 2.2 0M225.8 323.7a1.4 1.4 0 0 1 2.2 0M230.7 168.5a1.4 1.4 0 0 1 2.2 0M230.7 173.4a1.4 1.4 0 0 1 2.2 0M230.7 178.2a1.4 1.4 0 0 1 2.2 0M230.7 183.1a1.4 1.4 0 0 1 2.2 0M230.7 187.9a1.4 1.4 0 0 1 2.2 0M230.7 192.8a1.4 1.4 0 0 1 2.2 0M230.7 197.6a1.4 1.4 0 0 1 2.2 0M230.7 202.5a1.4 1.4 0 0 1 2.2 0M230.7 207.3a1.4 1.4 0 0 1 2.2 0M230.7 212.2a1.4 1.4 0 0 1 2.2 0M230.7 217.0a1.4 1.4 0 0 1 2.2 0M230.7 221.9a1.4 1.4 0 0 1 2.2 0M230.7 226.7a1.4 1.4 0 0 1 2.2 0M230.7 231.6a1.4 1.4 0 0 1 2.2 0M230.7 236.4a1.4 1.4 0 0 1 2.2 0M230.7 241.3a1.4 1.4 0 0 1 2.2 0M230.7 246.1a1.4 1.4 0 0 1 2.2 0M230.7 251.0a1.4 1.4 0 0 1 2.2 0M230.7 255.8a1.4 1.4 0 0 1 2.2 0M230.7 260.7a1.4 1.4 0 0 1 2.2 0M230.7 265.5a1.4 1.4 0 0 1 2.2 0M230.7 270.4a1.4 1.4 0 0 1 2.2 0M230.7 275.2a1.4 1.4 0 0 1 2.2 0M230.7 280.1a1.4 1.4 0 0 1 2.2 0M230.7 284.9a1.4 1.4 0 0 1 2.2 0M230.7 289.8a1.4 1.4 0 0 1 2.2 0M230.7 294.6a1.4 1.4 0 0 1 2.2 0M230.7 299.5a1.4 1.4 0 0 1 2.2 0M230.7 304.3a1.4 1.4 0 0 1 2.2 0M230.7 309.2a1.4 1.4 0 0 1 2.2 0M230.7 314.0a1.4 1.4 0 0 1 2.2 0M230.7 318.9a1.4 1.4 0 0 1 2.2 0M230.7 323.7a1.4 1.4 0 0 1 2.2 0M235.5 168.5a1.4 1.4 0 0 1 2.2 0M235.5 173.4a1.4 1.4 0 0 1 2.2 0M235.5 178.2a1.4 1.4 0 0 1 2.2 0M235.5 183.1a1.4 1.4 0 0 1 2.2 0M235.5 187.9a1.4 1.4 0 0 1 2.2 0M235.5 192.8a1.4 1.4 0 0 1 2.2 0M235.5 197.6a1.4 1.4 0 0 1 2.2 0M235.5 202.5a1.4 1.4 0 0 1 2.2 0M235.5 207.3a1.4 1.4 0 0 1 2.2 0M235.5 212.2a1.4 1.4 0 0 1 2.2 0M235.5 217.0a1.4 1.4 0 0 1 2.2 0M235.5 221.9a1.4 1.4 0 0 1 2.2 0M235.5 226.7a1.4 1.4 0 0 1 2.2 0M235.5 231.6a1.4 1.4 0 0 1 2.2 0M235.5 236.4a1.4 1.4 0 0 1 2.2 0M235.5 241.3a1.4 1.4 0 0 1 2.2 0M235.5 246.1a1.4 1.4 0 0 1 2.2 0M235.5 251.0a1.4 1.4 0 0 1 2.2 0M235.5 255.8a1.4 1.4 0 0 1 2.2 0M235.5 260.7a1.4 1.4 0 0 1 2.2 0M235.5 265.5a1.4 1.4 0 0 1 2.2 0M235.5 270.4a1.4 1.4 0 0 1 2.2 0M235.5 275.2a1.4 1.4 0 0 1 2.2 0M235.5 280.1a1.4 1.4 0 0 1 2.2 0M235.5 284.9a1.4 1.4 0 0 1 2.2 0M235.5 289.8a1.4 1.4 0 0 1 2.2 0M235.5 294.6a1.4 1.4 0 0 1 2.2 0M235.5 299.5a1.4 1.4 0 0 1 2.2 0M235.5 304.3a1.4 1.4 0 0 1 2.2 0M235.5 309.2a1.4 1.4 0 0 1 2.2 0M235.5 314.0a1.4 1.4 0 0 1 2.2 0M235.5 318.9a1.4 1.4 0 0 1 2.2 0M235.5 323.7a1.4 1.4 0 0 1 2.2 0M240.4 168.5a1.4 1.4 0 0 1 2.2 0M240.4 173.4a1.4 1.4 0 0 1 2.2 0M240.4 178.2a1.4 1.4 0 0 1 2.2 0M240.4 183.1a1.4 1.4 0 0 1 2.2 0M240.4 187.9a1.4 1.4 0 0 1 2.2 0M240.4 192.8a1.4 1.4 0 0 1 2.2 0M240.4 197.6a1.4 1.4 0 0 1 2.2 0M240.4 202.5a1.4 1.4 0 0 1 2.2 0M240.4 207.3a1.4 1.4 0 0 1 2.2 0M240.4 212.2a1.4 1.4 0 0 1 2.2 0M240.4 217.0a1.4 1.4 0 0 1 2.2 0M240.4 221.9a1.4 1.4 0 0 1 2.2 0M240.4 226.7a1.4 1.4 0 0 1 2.2 0M240.4 231.6a1.4 1.4 0 0 1 2.2 0M240.4 236.4a1.4 1.4 0 0 1 2.2 0M240.4 241.3a1.4 1.4 0 0 1 2.2 0M240.4 246.1a1.4 1.4 0 0 1 2.2 0M240.4 251.0a1.4 1.4 0 0 1 2.2 0M240.4 255.8a1.4 1.4 0 0 1 2.2 0M240.4 260.7a1.4 1.4 0 0 1 2.2 0M240.4 265.5a1.4 1.4 0 0 1 2.2 0M240.4 270.4a1.4 1.4 0 0 1 2.2 0M240.4 275.2a1.4 1.4 0 0 1 2.2 0M240.4 280.1a1.4 1.4 0 0 1 2.2 0M240.4 284.9a1.4 1.4 0 0 1 2.2 0M240.4 289.8a1.4 1.4 0 0 1 2.2 0M240.4 294.6a1.4 1.4 0 0 1 2.2 0M240.4 299.5a1.4 1.4 0 0 1 2.2 0M240.4 304.3a1.4 1.4 0 0 1 2.2 0M240.4 309.2a1.4 1.4 0 0 1 2.2 0M240.4 314.0a1.4 1.4 0 0 1 2.2 0M240.4 318.9a1.4 1.4 0 0 1 2.2 0M240.4 323.7a1.4 1.4 0 0 1 2.2 0M245.2 168.5a1.4 1.4 0 0 1 2.2 0M245.2 173.4a1.4 1.4 0 0 1 2.2 0M245.2 178.2a1.4 1.4 0 0 1 2.2 0M245.2 183.1a1.4 1.4 0 0 1 2.2 0M245.2 187.9a1.4 1.4 0 0 1 2.2 0M245.2 192.8a1.4 1.4 0 0 1 2.2 0M245.2 197.6a1.4 1.4 0 0 1 2.2 0M245.2 202.5a1.4 1.4 0 0 1 2.2 0M245.2 207.3a1.4 1.4 0 0 1 2.2 0M245.2 212.2a1.4 1.4 0 0 1 2.2 0M245.2 217.0a1.4 1.4 0 0 1 2.2 0M245.2 221.9a1.4 1.4 0 0 1 2.2 0M245.2 226.7a1.4 1.4 0 0 1 2.2 0M245.2 231.6a1.4 1.4 0 0 1 2.2 0M245.2 236.4a1.4 1.4 0 0 1 2.2 0M245.2 241.3a1.4 1.4 0 0 1 2.2 0M245.2 246.1a1.4 1.4 0 0 1 2.2 0M245.2 251.0a1.4 1.4 0 0 1 2.2 0M245.2 255.8a1.4 1.4 0 0 1 2.2 0M245.2 260.7a1.4 1.4 0 0 1 2.2 0M245.2 265.5a1.4 1.4 0 0 1 2.2 0M245.2 270.4a1.4 1.4 0 0 1 2.2 0M245.2 275.2a1.4 1.4 0 0 1 2.2 0M245.2 280.1a1.4 1.4 0 0 1 2.2 0M245.2 284.9a1.4 1.4 0 0 1 2.2 0M245.2 289.8a1.4 1.4 0 0 1 2.2 0M245.2 294.6a1.4 1.4 0 0 1 2.2 0M245.2 299.5a1.4 1.4 0 0 1 2.2 0M245.2 304.3a1.4 1.4 0 0 1 2.2 0M245.2 309.2a1.4 1.4 0 0 1 2.2 0M245.2 314.0a1.4 1.4 0 0 1 2.2 0M245.2 318.9a1.4 1.4 0 0 1 2.2 0M245.2 323.7a1.4 1.4 0 0 1 2.2 0M250.1 168.5a1.4 1.4 0 0 1 2.2 0M250.1 173.4a1.4 1.4 0 0 1 2.2 0M250.1 178.2a1.4 1.4 0 0 1 2.2 0M250.1 183.1a1.4 1.4 0 0 1 2.2 0M250.1 187.9a1.4 1.4 0 0 1 2.2 0M250.1 192.8a1.4 1.4 0 0 1 2.2 0M250.1 197.6a1.4 1.4 0 0 1 2.2 0M250.1 202.5a1.4 1.4 0 0 1 2.2 0M250.1 207.3a1.4 1.4 0 0 1 2.2 0M250.1 212.2a1.4 1.4 0 0 1 2.2 0M250.1 217.0a1.4 1.4 0 0 1 2.2 0M250.1 221.9a1.4 1.4 0 0 1 2.2 0M250.1 226.7a1.4 1.4 0 0 1 2.2 0M250.1 231.6a1.4 1.4 0 0 1 2.2 0M250.1 236.4a1.4 1.4 0 0 1 2.2 0M250.1 241.3a1.4 1.4 0 0 1 2.2 0M250.1 246.1a1.4 1.4 0 0 1 2.2 0M250.1 251.0a1.4 1.4 0 0 1 2.2 0M250.1 255.8a1.4 1.4 0 0 1 2.2 0M250.1 260.7a1.4 1.4 0 0 1 2.2 0M250.1 265.5a1.4 1.4 0 0 1 2.2 0M250.1 270.4a1.4 1.4 0 0 1 2.2 0M250.1 275.2a1.4 1.4 0 0 1 2.2 0M250.1 280.1a1.4 1.4 0 0 1 2.2 0M250.1 284.9a1.4 1.4 0 0 1 2.2 0M250.1 289.8a1.4 1.4 0 0 1 2.2 0M250.1 294.6a1.4 1.4 0 0 1 2.2 0M250.1 299.5a1.4 1.4 0 0 1 2.2 0M250.1 304.3a1.4 1.4 0 0 1 2.2 0M250.1 309.2a1.4 1.4 0 0 1 2.2 0M250.1 314.0a1.4 1.4 0 0 1 2.2 0M250.1 318.9a1.4 1.4 0 0 1 2.2 0M250.1 323.7a1.4 1.4 0 0 1 2.2 0M254.9 168.5a1.4 1.4 0 0 1 2.2 0M254.9 173.4a1.4 1.4 0 0 1 2.2 0M254.9 178.2a1.4 1.4 0 0 1 2.2 0M254.9 183.1a1.4 1.4 0 0 1 2.2 0M254.9 187.9a1.4 1.4 0 0 1 2.2 0M254.9 192.8a1.4 1.4 0 0 1 2.2 0M254.9 197.6a1.4 1.4 0 0 1 2.2 0M254.9 202.5a1.4 1.4 0 0 1 2.2 0M254.9 207.3a1.4 1.4 0 0 1 2.2 0M254.9 212.2a1.4 1.4 0 0 1 2.2 0M254.9 217.0a1.4 1.4 0 0 1 2.2 0M254.9 221.9a1.4 1.4 0 0 1 2.2 0M254.9 226.7a1.4 1.4 0 0 1 2.2 0M254.9 231.6a1.4 1.4 0 0 1 2.2 0M254.9 236.4a1.4 1.4 0 0 1 2.2 0M254.9 241.3a1.4 1.4 0 0 1 2.2 0M254.9 246.1a1.4 1.4 0 0 1 2.2 0M254.9 251.0a1.4 1.4 0 0 1 2.2 0M254.9 255.8a1.4 1.4 0 0 1 2.2 0M254.9 260.7a1.4 1.4 0 0 1 2.2 0M254.9 265.5a1.4 1.4 0 0 1 2.2 0M254.9 270.4a1.4 1.4 0 0 1 2.2 0M254.9 275.2a1.4 1.4 0 0 1 2.2 0M254.9 280.1a1.4 1.4 0 0 1 2.2 0M254.9 284.9a1.4 1.4 0 0 1 2.2 0M254.9 289.8a1.4 1.4 0 0 1 2.2 0M254.9 294.6a1.4 1.4 0 0 1 2.2 0M254.9 299.5a1.4 1.4 0 0 1 2.2 0M254.9 304.3a1.4 1.4 0 0 1 2.2 0M254.9 309.2a1.4 1.4 0 0 1 2.2 0M254.9 314.0a1.4 1.4 0 0 1 2.2 0M254.9 318.9a1.4 1.4 0 0 1 2.2 0M254.9 323.7a1.4 1.4 0 0 1 2.2 0M259.8 168.5a1.4 1.4 0 0 1 2.2 0M259.8 173.4a1.4 1.4 0 0 1 2.2 0M259.8 178.2a1.4 1.4 0 0 1 2.2 0M259.8 183.1a1.4 1.4 0 0 1 2.2 0M259.8 187.9a1.4 1.4 0 0 1 2.2 0M259.8 192.8a1.4 1.4 0 0 1 2.2 0M259.8 197.6a1.4 1.4 0 0 1 2.2 0M259.8 202.5a1.4 1.4 0 0 1 2.2 0M259.8 207.3a1.4 1.4 0 0 1 2.2 0M259.8 212.2a1.4 1.4 0 0 1 2.2 0M259.8 217.0a1.4 1.4 0 0 1 2.2 0M259.8 221.9a1.4 1.4 0 0 1 2.2 0M259.8 226.7a1.4 1.4 0 0 1 2.2 0M259.8 231.6a1.4 1.4 0 0 1 2.2 0M259.8 236.4a1.4 1.4 0 0 1 2.2 0M259.8 241.3a1.4 1.4 0 0 1 2.2 0M259.8 246.1a1.4 1.4 0 0 1 2.2 0M259.8 251.0a1.4 1.4 0 0 1 2.2 0M259.8 255.8a1.4 1.4 0 0 1 2.2 0M259.8 260.7a1.4 1.4 0 0 1 2.2 0M259.8 265.5a1.4 1.4 0 0 1 2.2 0M259.8 270.4a1.4 1.4 0 0 1 2.2 0M259.8 275.2a1.4 1.4 0 0 1 2.2 0M259.8 280.1a1.4 1.4 0 0 1 2.2 0M259.8 284.9a1.4 1.4 0 0 1 2.2 0M259.8 289.8a1.4 1.4 0 0 1 2.2 0M259.8 294.6a1.4 1.4 0 0 1 2.2 0M259.8 299.5a1.4 1.4 0 0 1 2.2 0M259.8 304.3a1.4 1.4 0 0 1 2.2 0M259.8 309.2a1.4 1.4 0 0 1 2.2 0M259.8 314.0a1.4 1.4 0 0 1 2.2 0M259.8 318.9a1.4 1.4 0 0 1 2.2 0M259.8 323.7a1.4 1.4 0 0 1 2.2 0M264.6 168.5a1.4 1.4 0 0 1 2.2 0M264.6 173.4a1.4 1.4 0 0 1 2.2 0M264.6 178.2a1.4 1.4 0 0 1 2.2 0M264.6 183.1a1.4 1.4 0 0 1 2.2 0M264.6 187.9a1.4 1.4 0 0 1 2.2 0M264.6 192.8a1.4 1.4 0 0 1 2.2 0M264.6 197.6a1.4 1.4 0 0 1 2.2 0M264.6 202.5a1.4 1.4 0 0 1 2.2 0M264.6 207.3a1.4 1.4 0 0 1 2.2 0M264.6 212.2a1.4 1.4 0 0 1 2.2 0M264.6 217.0a1.4 1.4 0 0 1 2.2 0M264.6 221.9a1.4 1.4 0 0 1 2.2 0M264.6 226.7a1.4 1.4 0 0 1 2.2 0M264.6 231.6a1.4 1.4 0 0 1 2.2 0M264.6 236.4a1.4 1.4 0 0 1 2.2 0M264.6 241.3a1.4 1.4 0 0 1 2.2 0M264.6 246.1a1.4 1.4 0 0 1 2.2 0M264.6 251.0a1.4 1.4 0 0 1 2.2 0M264.6 255.8a1.4 1.4 0 0 1 2.2 0M264.6 260.7a1.4 1.4 0 0 1 2.2 0M264.6 265.5a1.4 1.4 0 0 1 2.2 0M264.6 270.4a1.4 1.4 0 0 1 2.2 0M264.6 275.2a1.4 1.4 0 0 1 2.2 0M264.6 280.1a1.4 1.4 0 0 1 2.2 0M264.6 284.9a1.4 1.4 0 0 1 2.2 0M264.6 289.8a1.4 1.4 0 0 1 2.2 0M264.6 294.6a1.4 1.4 0 0 1 2.2 0M264.6 299.5a1.4 1.4 0 0 1 2.2 0M264.6 304.3a1.4 1.4 0 0 1 2.2 0M264.6 309.2a1.4 1.4 0 0 1 2.2 0M264.6 314.0a1.4 1.4 0 0 1 2.2 0M264.6 318.9a1.4 1.4 0 0 1 2.2 0M264.6 323.7a1.4 1.4 0 0 1 2.2 0M269.5 168.5a1.4 1.4 0 0 1 2.2 0M269.5 173.4a1.4 1.4 0 0 1 2.2 0M269.5 178.2a1.4 1.4 0 0 1 2.2 0M269.5 183.1a1.4 1.4 0 0 1 2.2 0M269.5 187.9a1.4 1.4 0 0 1 2.2 0M269.5 192.8a1.4 1.4 0 0 1 2.2 0M269.5 197.6a1.4 1.4 0 0 1 2.2 0M269.5 202.5a1.4 1.4 0 0 1 2.2 0M269.5 207.3a1.4 1.4 0 0 1 2.2 0M269.5 212.2a1.4 1.4 0 0 1 2.2 0M269.5 217.0a1.4 1.4 0 0 1 2.2 0M269.5 221.9a1.4 1.4 0 0 1 2.2 0M269.5 226.7a1.4 1.4 0 0 1 2.2 0M269.5 231.6a1.4 1.4 0 0 1 2.2 0M269.5 236.4a1.4 1.4 0 0 1 2.2 0M269.5 241.3a1.4 1.4 0 0 1 2.2 0M269.5 246.1a1.4 1.4 0 0 1 2.2 0M269.5 251.0a1.4 1.4 0 0 1 2.2 0M269.5 255.8a1.4 1.4 0 0 1 2.2 0M269.5 260.7a1.4 1.4 0 0 1 2.2 0M269.5 265.5a1.4 1.4 0 0 1 2.2 0M269.5 270.4a1.4 1.4 0 0 1 2.2 0M269.5 275.2a1.4 1.4 0 0 1 2.2 0M269.5 280.1a1.4 1.4 0 0 1 2.2 0M269.5 284.9a1.4 1.4 0 0 1 2.2 0M269.5 289.8a1.4 1.4 0 0 1 2.2 0M269.5 294.6a1.4 1.4 0 0 1 2.2 0M269.5 299.5a1.4 1.4 0 0 1 2.2 0M269.5 304.3a1.4 1.4 0 0 1 2.2 0M269.5 309.2a1.4 1.4 0 0 1 2.2 0M269.5 314.0a1.4 1.4 0 0 1 2.2 0M269.5 318.9a1.4 1.4 0 0 1 2.2 0M269.5 323.7a1.4 1.4 0 0 1 2.2 0M274.3 168.5a1.4 1.4 0 0 1 2.2 0M274.3 173.4a1.4 1.4 0 0 1 2.2 0M274.3 178.2a1.4 1.4 0 0 1 2.2 0M274.3 183.1a1.4 1.4 0 0 1 2.2 0M274.3 187.9a1.4 1.4 0 0 1 2.2 0M274.3 192.8a1.4 1.4 0 0 1 2.2 0M274.3 197.6a1.4 1.4 0 0 1 2.2 0M274.3 202.5a1.4 1.4 0 0 1 2.2 0M274.3 207.3a1.4 1.4 0 0 1 2.2 0M274.3 212.2a1.4 1.4 0 0 1 2.2 0M274.3 217.0a1.4 1.4 0 0 1 2.2 0M274.3 221.9a1.4 1.4 0 0 1 2.2 0M274.3 226.7a1.4 1.4 0 0 1 2.2 0M274.3 231.6a1.4 1.4 0 0 1 2.2 0M274.3 236.4a1.4 1.4 0 0 1 2.2 0M274.3 241.3a1.4 1.4 0 0 1 2.2 0M274.3 246.1a1.4 1.4 0 0 1 2.2 0M274.3 251.0a1.4 1.4 0 0 1 2.2 0M274.3 255.8a1.4 1.4 0 0 1 2.2 0M274.3 260.7a1.4 1.4 0 0 1 2.2 0M274.3 265.5a1.4 1.4 0 0 1 2.2 0M274.3 270.4a1.4 1.4 0 0 1 2.2 0M274.3 275.2a1.4 1.4 0 0 1 2.2 0M274.3 280.1a1.4 1.4 0 0 1 2.2 0M274.3 284.9a1.4 1.4 0 0 1 2.2 0M274.3 289.8a1.4 1.4 0 0 1 2.2 0M274.3 294.6a1.4 1.4 0 0 1 2.2 0M274.3 299.5a1.4 1.4 0 0 1 2.2 0M274.3 304.3a1.4 1.4 0 0 1 2.2 0M274.3 309.2a1.4 1.4 0 0 1 2.2 0M274.3 314.0a1.4 1.4 0 0 1 2.2 0M274.3 318.9a1.4 1.4 0 0 1 2.2 0M274.3 323.7a1.4 1.4 0 0 1 2.2 0" stroke="#aaa" stroke-width="0.6"/>
</g>
<rect x="121" y="171.3" width="148" height="147" rx="14" stroke="#777" stroke-width="0.6"/>

<!-- text oval -->
<rect x="164.5" y="180.3" width="62" height="21" rx="10.5" fill="#fff" fill-opacity="0.7" stroke="#333" stroke-width="1"/>
<!-- inner square -->
<rect x="164.75" y="213.75" width="61.5" height="61.25" rx="6" fill="#fff" stroke="#333" stroke-width="1.3"/>
<rect x="168.6" y="217.8" width="54" height="53.4" rx="4" stroke="#666" stroke-width="0.8"/>
<clipPath id="isq"><rect x="168.75" y="217.5" width="53.75" height="53.5" rx="4"/></clipPath>
<circle cx="195.4" cy="244.7" r="30.5" stroke="#666" stroke-width="0.9" stroke-dasharray="2 2" clip-path="url(#isq)"/>
<circle cx="195.4" cy="244.7" r="23.75" stroke="#333" stroke-width="1.3" stroke-dasharray="9 0.8"/>
<circle cx="195.4" cy="244.7" r="15.3" stroke="#333" stroke-width="1.1"/>
<circle cx="195.4" cy="244.7" r="7.7" stroke="#222" stroke-width="1.6" stroke-dasharray="2.4 1.2"/>
<!-- small oval -->
<rect x="164" y="287.5" width="61.5" height="21.5" rx="10.75" stroke="#222" stroke-width="1.3"/>

<!-- center lines -->
<path d="M195.3 152.5V331.7" stroke="#333" stroke-width="0.8"/>
<path d="M102 244.6H282.5" stroke="#333" stroke-width="0.8"/>
<path d="M195.5 331.7V528" stroke="#333" stroke-width="0.8" stroke-dasharray="14 2 2 2"/>

<!-- dimensions front -->
<g stroke="#555" stroke-width="0.7">
<path d="M66.5 124.2H119"/>
<path d="M66 331.6H108"/>
<path d="M86 157.7H140"/>
<path d="M108 331.7V351M282.5 331.7V351"/>
<path d="M68.5 124.2V331.6" marker-start="url(#arr)" marker-end="url(#arr)"/>
<path d="M88.5 157.7V331.6" marker-start="url(#arr)" marker-end="url(#arr)"/>
<path d="M108 347.5H282.5" marker-start="url(#arr)" marker-end="url(#arr)"/>
</g>

<!-- ===== SIDE VIEW ===== -->
<path d="M311 124.7H366.7V267" stroke="#333" stroke-width="1"/>
<path d="M311 124.7A3.3 3.3 0 0 0 311 131.3H356A4 4 0 0 1 360 135.3V263A4.5 4.5 0 0 0 364.5 267.5H366.7" stroke="#333" stroke-width="1"/>
<path d="M321.3 124.7V131.3" stroke="#666" stroke-width="0.6"/>
<path d="M362.5 138V265" stroke="#555" stroke-width="0.7"/>
<path d="M361.2 138V264" stroke="#ccc" stroke-width="1.6"/>
<path d="M337.8 131.5L359.5 154" stroke="#555" stroke-width="1.5"/><path d="M337.8 131.5L359.5 154" stroke="#ddd" stroke-width="0.4"/>
<path d="M309 129H356.5" stroke="#888" stroke-width="0.6"/>
<path d="M360 233H356.3V234.2H353.5Q349.3 236 349.3 244.5Q349.3 253 353.5 254.6H356.3V256.7H360" stroke="#333" stroke-width="1"/>
<path d="M356.3 234.2V254.6" stroke="#444" stroke-width="0.8"/>
<!-- body -->
<path d="M367 159.2H400.8V329.8H369A2 2 0 0 1 367 327.8Z" stroke="#333" stroke-width="1"/>
<path d="M400.8 157.5H438.7A3 3 0 0 1 441.7 160.5V328A3 3 0 0 1 438.7 331H400.8Z" stroke="#333" stroke-width="1"/>
<path d="M405.5 157.5V331" stroke="#444" stroke-width="0.8"/>
<path d="M367 189.5H441.7M367 299.3H441.7" stroke="#444" stroke-width="0.8"/>
<!-- axis dash-dot -->
<path d="M282.5 244.4H452.5" stroke="#333" stroke-width="0.8" stroke-dasharray="36 3 3 3"/>
<path d="M452.5 244.4L465 389.5L195.5 528" stroke="#444" stroke-width="0.8"/>

<!-- ===== BOTTOM VIEW ===== -->
<path d="M118.3 441.3L127 398A14 14 0 0 1 141 382.5H249A14 14 0 0 1 263 398L271.7 441.3" stroke="#333" stroke-width="1.1"/>
<path d="M147.5 382.5V409.5M162.5 382.5V409.5M227.5 382.5V409.5M243 382.5V409.5M147.5 402.2H162.5M227.5 402.2H243" stroke="#333" stroke-width="1"/>
<circle cx="155" cy="409.2" r="7.5" fill="#fff" stroke="#222" stroke-width="1.1"/>
<circle cx="235.3" cy="409.5" r="7.5" fill="#fff" stroke="#222" stroke-width="1.1"/>
<path d="M150 409.2H160M155 404.2V414.2M230.3 409.5H240.3M235.3 404.5V414.5" stroke="#444" stroke-width="0.7"/>
<!-- housing -->
<path d="M110 475L110.5 444A3 3 0 0 1 113.5 441.3H277A3 3 0 0 1 280 444.3L281 475" stroke="#333" stroke-width="1.1"/>
<path d="M110 475H282A1 1 0 0 1 283 476V479A1 1 0 0 1 282 480H109A1 1 0 0 1 108 479V476A1 1 0 0 1 109 475" stroke="#333" stroke-width="1.1"/>
<path d="M108.5 480L109.5 512A4 4 0 0 0 113.5 516.3H278A4 4 0 0 0 282 512.3L282.5 480" stroke="#333" stroke-width="1.1"/>
<path d="M110 513.3H281.5" stroke="#444" stroke-width="0.8"/>
<path d="M140.4 441.3V516.3M250.3 441.3V516.3" stroke="#333" stroke-width="0.9"/>
<path d="M186 441.3V446.7A3 3 0 0 0 189 449.7H201.2A3 3 0 0 0 204.2 446.7V441.3" stroke="#333" stroke-width="1"/>
<g stroke="#555" stroke-width="0.7">
<path d="M155 409.2V432.5M235.3 409.5V432.5"/>
<path d="M155 429.7H235.3" marker-start="url(#arr)" marker-end="url(#arr)"/>
<path d="M47 382.5H139M66 408.75H155M86 440.75H110M47 516.3H110"/>
<path d="M48.75 382.5V516.3" marker-start="url(#arr)" marker-end="url(#arr)"/>
<path d="M68.25 408.75V516.3" marker-start="url(#arr)" marker-end="url(#arr)"/>
<path d="M88.25 440.75V516.3" marker-start="url(#arr)" marker-end="url(#arr)"/>
</g>

<!-- leaders -->
<g stroke="#444" stroke-width="0.8">
<path d="M18 93.5H160L195 240"/>
<path d="M426 112.5H243.3L205 234"/>
<path d="M9 375H146.5L160 283"/>
<path d="M430 374.4H210L203 306"/>
<path d="M592.5 389.5H465"/>
</g>
</g>

<!-- texts -->
<g fill="#474747" font-size="10.5">
<text x="19" y="91.5" textLength="138" lengthAdjust="spacingAndGlyphs">CENTER OF THE REFERENCE</text>
<text x="244.7" y="110.75" textLength="179.6" lengthAdjust="spacingAndGlyphs">FRONT END-OUTLINE MARKER LAMP</text>
<text x="10" y="373" textLength="133.75" lengthAdjust="spacingAndGlyphs">RETROREFLECTING DEVICE</text>
<text x="211.6" y="372.6" textLength="183.4" lengthAdjust="spacingAndGlyphs">PLACE FOR THE APPROVAL NUMBER</text>
<text x="465.5" y="387.5" textLength="123.25" lengthAdjust="spacingAndGlyphs">AXES OF THE REFERENCE</text>
</g>
<g fill="#444" font-size="11">
<text transform="translate(67.3 237.3) rotate(-90)" textLength="21.3" lengthAdjust="spacingAndGlyphs">77.5</text>
<text transform="translate(87.3 252.5) rotate(-90)" textLength="11.7" lengthAdjust="spacingAndGlyphs">65</text>
<text x="180" y="345" textLength="11" lengthAdjust="spacingAndGlyphs">65</text>
<text x="200.3" y="427.5" textLength="11.4" lengthAdjust="spacingAndGlyphs">30</text>
<text transform="translate(48 454.5) rotate(-90)" textLength="12" lengthAdjust="spacingAndGlyphs">50</text>
<text transform="translate(68 462.5) rotate(-90)" textLength="12" lengthAdjust="spacingAndGlyphs">40</text>
<text transform="translate(87 481.25) rotate(-90)" textLength="12.5" lengthAdjust="spacingAndGlyphs">28</text>
</g>
<g fill="#111" stroke="#111" stroke-width="0.6" font-size="7.3" font-weight="bold">
<text x="187" y="186.1" textLength="14.8" lengthAdjust="spacingAndGlyphs">TOP</text>
<text x="168.75" y="193.9" textLength="14.75" lengthAdjust="spacingAndGlyphs">WAS</text>
<text x="187.5" y="193.9" textLength="10.3" lengthAdjust="spacingAndGlyphs">12V</text>
<text x="205" y="193.9" textLength="16.25" lengthAdjust="spacingAndGlyphs">0.5W</text>
<text x="172.6" y="200.9" stroke-width="0.85" textLength="11.4" lengthAdjust="spacingAndGlyphs">WS3</text>
<text x="190" y="200.9" stroke-width="0.85" textLength="11" lengthAdjust="spacingAndGlyphs">24V</text>
<text x="210" y="200.9" stroke-width="0.85" textLength="7.2" lengthAdjust="spacingAndGlyphs">1W</text>
</g>
</svg>
</body></html>
